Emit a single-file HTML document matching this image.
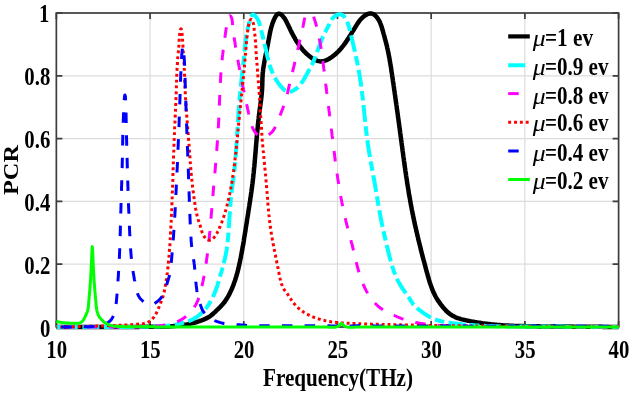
<!DOCTYPE html>
<html><head><meta charset="utf-8"><style>
html,body{margin:0;padding:0;background:#fff;}
body{width:629px;height:394px;overflow:hidden;}
svg{display:block;filter:blur(0.4px);}
text{font-family:"Liberation Serif",serif;font-weight:bold;fill:#000;}
</style></head><body>
<svg width="629" height="394" viewBox="0 0 629 394">
<rect width="629" height="394" fill="#fff"/>
<g stroke="#dcdcdc" stroke-width="1.2" fill="none"><line x1="150.06" y1="13.00" x2="150.06" y2="327.00"/>
<line x1="243.77" y1="13.00" x2="243.77" y2="327.00"/>
<line x1="337.48" y1="13.00" x2="337.48" y2="327.00"/>
<line x1="431.18" y1="13.00" x2="431.18" y2="327.00"/>
<line x1="524.89" y1="13.00" x2="524.89" y2="327.00"/>
<line x1="56.35" y1="264.20" x2="618.60" y2="264.20"/>
<line x1="56.35" y1="201.40" x2="618.60" y2="201.40"/>
<line x1="56.35" y1="138.60" x2="618.60" y2="138.60"/>
<line x1="56.35" y1="75.80" x2="618.60" y2="75.80"/></g>
<g stroke="#3c3c3c" stroke-width="1.7" fill="none">
<rect x="56.35" y="13.00" width="562.25" height="314.00"/>
<path d="M56.35 327.00V321.00M56.35 13.00V19.00M150.06 327.00V321.00M150.06 13.00V19.00M243.77 327.00V321.00M243.77 13.00V19.00M337.48 327.00V321.00M337.48 13.00V19.00M431.18 327.00V321.00M431.18 13.00V19.00M524.89 327.00V321.00M524.89 13.00V19.00M618.60 327.00V321.00M618.60 13.00V19.00M56.35 327.00H62.35M618.60 327.00H612.60M56.35 264.20H62.35M618.60 264.20H612.60M56.35 201.40H62.35M618.60 201.40H612.60M56.35 138.60H62.35M618.60 138.60H612.60M56.35 75.80H62.35M618.60 75.80H612.60M56.35 13.00H62.35M618.60 13.00H612.60"/>
</g>
<g fill="none" stroke-linejoin="round"><path d="M56.3 327.0L57.5 327.0L58.7 327.0L59.9 327.0L61.1 327.0L62.3 327.0L63.5 327.0L64.7 327.0L65.9 327.0L67.1 327.0L68.3 327.0L69.5 327.0L70.7 327.0L71.9 327.0L73.1 327.0L74.3 327.0L75.5 327.0L76.7 327.0L77.9 327.0L79.1 327.0L80.3 327.0L81.5 327.0L82.7 327.0L83.9 327.0L85.1 327.0L86.3 327.0L87.5 327.0L88.7 327.0L89.9 327.0L91.1 327.0L92.3 327.0L93.5 327.0L94.7 327.0L95.9 327.0L97.1 327.0L98.3 327.0L99.5 327.0L100.7 327.0L101.9 327.0L103.1 327.0L104.3 327.0L105.5 327.0L106.7 327.0L107.8 327.0L109.0 327.0L110.2 327.0L111.4 327.0L112.6 327.0L113.8 327.0L115.0 327.0L116.2 327.0L117.4 327.0L118.6 326.9L119.8 326.9L121.0 326.9L122.2 326.9L123.4 326.9L124.6 326.9L125.8 326.9L127.0 326.9L128.2 326.9L129.4 326.9L130.6 326.9L131.8 326.9L133.0 326.9L134.2 326.9L135.4 326.9L136.6 326.9L137.8 326.9L139.0 326.9L140.2 326.8L141.4 326.8L142.6 326.8L143.8 326.8L145.0 326.8L146.2 326.8L147.4 326.8L148.6 326.8L149.8 326.8L151.0 326.8L152.2 326.8L153.4 326.8L154.6 326.8L155.8 326.8L157.0 326.7L158.2 326.7L159.4 326.7L160.6 326.7L161.8 326.7L163.0 326.6L164.2 326.6L165.4 326.5L166.6 326.5L167.8 326.4L169.0 326.4L170.2 326.3L171.4 326.2L172.6 326.2L173.8 326.1L175.0 326.0L176.2 325.9L177.4 325.7L178.6 325.6L179.7 325.5L180.9 325.3L182.1 325.2L183.3 325.0L184.5 324.8L185.7 324.6L186.8 324.4L188.0 324.2L189.2 323.9L190.4 323.7L191.5 323.4L192.7 323.1L193.9 322.8L195.0 322.5L196.2 322.2L197.3 321.8L198.5 321.4L199.6 321.1L200.7 320.7L201.9 320.3L203.0 319.8L204.1 319.4L205.2 318.9L206.3 318.4L207.4 317.9L208.4 317.3L209.4 316.7L210.4 316.0L211.3 315.3L212.2 314.5L213.1 313.7L214.0 312.9L214.9 312.1L215.7 311.3L216.6 310.4L217.5 309.6L218.4 308.8L219.2 307.9L220.1 307.1L220.9 306.2L221.7 305.3L222.5 304.4L223.3 303.5L224.1 302.6L224.8 301.6L225.5 300.6L226.1 299.6L226.8 298.6L227.4 297.6L228.0 296.6L228.6 295.5L229.2 294.5L229.7 293.4L230.2 292.3L230.7 291.3L231.2 290.2L231.7 289.1L232.2 288.0L232.6 286.9L233.1 285.8L233.5 284.7L233.9 283.5L234.3 282.4L234.7 281.3L235.1 280.2L235.5 279.0L235.8 277.9L236.2 276.7L236.5 275.6L236.8 274.4L237.2 273.3L237.5 272.1L237.8 270.9L238.1 269.8L238.4 268.6L238.6 267.5L238.9 266.3L239.2 265.1L239.4 263.9L239.7 262.8L239.9 261.6L240.2 260.4L240.4 259.2L240.7 258.0L240.9 256.9L241.1 255.7L241.3 254.5L241.6 253.3L241.8 252.1L242.0 251.0L242.2 249.8L242.4 248.6L242.6 247.4L242.8 246.2L243.1 245.1L243.3 243.9L243.5 242.7L243.7 241.5L243.9 240.3L244.0 239.2L244.2 238.0L244.4 236.8L244.6 235.6L244.8 234.4L245.0 233.2L245.2 232.1L245.4 230.9L245.6 229.7L245.7 228.5L245.9 227.3L246.1 226.2L246.3 225.0L246.5 223.8L246.7 222.6L246.9 221.4L247.0 220.2L247.2 219.1L247.4 217.9L247.6 216.7L247.8 215.5L248.0 214.3L248.2 213.1L248.3 212.0L248.5 210.8L248.7 209.6L248.9 208.4L249.1 207.2L249.3 206.0L249.4 204.8L249.6 203.7L249.8 202.5L250.0 201.3L250.2 200.1L250.3 198.9L250.5 197.7L250.7 196.5L250.9 195.4L251.0 194.2L251.2 193.0L251.4 191.8L251.5 190.6L251.7 189.4L251.9 188.2L252.0 187.0L252.2 185.9L252.3 184.7L252.5 183.5L252.6 182.3L252.8 181.1L252.9 179.9L253.0 178.7L253.2 177.5L253.3 176.3L253.4 175.1L253.5 174.0L253.7 172.8L253.8 171.6L253.9 170.4L254.0 169.2L254.1 168.0L254.3 166.8L254.4 165.6L254.5 164.4L254.6 163.2L254.7 162.0L254.8 160.8L254.9 159.6L255.0 158.4L255.1 157.2L255.2 156.0L255.3 154.8L255.4 153.7L255.5 152.5L255.6 151.3L255.7 150.1L255.8 148.9L255.9 147.7L256.0 146.5L256.1 145.3L256.2 144.1L256.3 142.9L256.4 141.7L256.5 140.5L256.6 139.3L256.7 138.1L256.8 136.9L256.9 135.7L257.0 134.5L257.1 133.3L257.2 132.1L257.3 131.0L257.4 129.8L257.6 128.6L257.7 127.4L257.8 126.2L257.9 125.0L258.0 123.8L258.2 122.6L258.3 121.4L258.4 120.2L258.6 119.0L258.7 117.8L258.8 116.6L259.0 115.5L259.1 114.3L259.3 113.1L259.4 111.9L259.6 110.7L259.7 109.5L259.9 108.3L260.1 107.1L260.2 106.0L260.4 104.8L260.6 103.6L260.7 102.4L260.9 101.2L261.1 100.0L261.2 98.8L261.3 97.6L261.5 96.4L261.6 95.2L261.7 94.1L261.8 92.9L261.9 91.7L262.0 90.5L262.1 89.3L262.1 88.1L262.2 86.9L262.2 85.7L262.3 84.5L262.3 83.3L262.3 82.1L262.4 80.9L262.4 79.7L262.4 78.5L262.5 77.3L262.6 76.1L262.6 74.9L262.7 73.7L262.8 72.5L263.0 71.3L263.1 70.1L263.2 68.9L263.4 67.7L263.6 66.6L263.8 65.4L264.0 64.2L264.2 63.0L264.4 61.8L264.6 60.7L264.8 59.5L265.0 58.3L265.3 57.1L265.5 56.0L265.7 54.8L266.0 53.6L266.2 52.4L266.5 51.3L266.7 50.1L267.0 48.9L267.2 47.7L267.4 46.5L267.7 45.4L267.9 44.2L268.1 43.0L268.3 41.8L268.5 40.7L268.7 39.5L269.0 38.3L269.2 37.1L269.4 35.9L269.6 34.8L269.8 33.6L270.1 32.4L270.3 31.2L270.6 30.1L270.9 28.9L271.2 27.7L271.5 26.6L271.9 25.4L272.2 24.2L272.6 23.1L273.1 21.9L273.5 20.8L274.0 19.7L274.5 18.5L275.1 17.4L275.7 16.3L276.4 15.3L277.1 14.5L277.9 13.9L278.7 13.7L279.6 13.8L280.5 14.2L281.4 14.8L282.4 15.7L283.2 16.7L284.1 17.7L284.8 18.8L285.5 19.9L286.1 21.1L286.7 22.2L287.2 23.3L287.8 24.4L288.3 25.6L288.8 26.6L289.4 27.7L289.9 28.8L290.4 29.9L290.9 30.9L291.4 32.0L292.0 33.0L292.5 34.1L293.1 35.1L293.6 36.2L294.2 37.2L294.8 38.2L295.4 39.3L296.0 40.3L296.6 41.3L297.2 42.3L297.9 43.3L298.5 44.3L299.2 45.3L299.9 46.2L300.6 47.2L301.4 48.1L302.1 49.1L302.9 50.0L303.7 50.9L304.5 51.7L305.4 52.6L306.2 53.4L307.1 54.3L308.1 55.1L309.0 55.9L310.0 56.6L311.0 57.4L312.0 58.1L313.1 58.8L314.2 59.4L315.2 59.9L316.4 60.4L317.5 60.8L318.6 61.1L319.7 61.3L320.9 61.4L322.0 61.3L323.2 61.2L324.3 60.9L325.4 60.5L326.5 60.1L327.6 59.6L328.7 59.0L329.8 58.3L330.8 57.7L331.8 57.0L332.8 56.3L333.7 55.5L334.7 54.8L335.6 54.0L336.5 53.2L337.3 52.4L338.2 51.6L339.0 50.7L339.8 49.8L340.6 49.0L341.4 48.1L342.1 47.2L342.9 46.2L343.6 45.3L344.3 44.3L345.0 43.4L345.7 42.4L346.4 41.4L347.0 40.4L347.7 39.4L348.4 38.4L349.0 37.4L349.7 36.4L350.3 35.3L350.9 34.3L351.6 33.3L352.2 32.2L352.8 31.2L353.5 30.2L354.1 29.1L354.7 28.1L355.4 27.0L356.0 26.0L356.7 25.0L357.3 23.9L358.0 22.9L358.7 21.9L359.4 21.0L360.1 20.0L360.9 19.1L361.7 18.3L362.6 17.4L363.4 16.7L364.4 15.9L365.4 15.3L366.4 14.7L367.5 14.1L368.7 13.7L369.8 13.5L371.0 13.4L372.1 13.6L373.1 14.0L374.1 14.6L375.1 15.4L375.9 16.2L376.7 17.1L377.5 18.1L378.2 19.1L378.8 20.1L379.4 21.1L379.9 22.2L380.3 23.3L380.8 24.5L381.2 25.6L381.6 26.8L382.0 28.0L382.3 29.2L382.6 30.3L383.0 31.5L383.3 32.7L383.6 33.9L384.0 35.0L384.3 36.2L384.6 37.3L384.9 38.5L385.2 39.6L385.5 40.8L385.8 41.9L386.1 43.1L386.4 44.2L386.7 45.4L387.0 46.5L387.2 47.7L387.5 48.9L387.8 50.0L388.0 51.2L388.3 52.4L388.5 53.5L388.7 54.7L388.9 55.9L389.2 57.1L389.4 58.2L389.6 59.4L389.8 60.6L390.0 61.8L390.2 63.0L390.4 64.1L390.6 65.3L390.8 66.5L391.0 67.7L391.2 68.9L391.3 70.1L391.5 71.3L391.7 72.5L391.9 73.6L392.1 74.8L392.2 76.0L392.4 77.2L392.6 78.4L392.8 79.6L392.9 80.8L393.1 82.0L393.3 83.1L393.5 84.3L393.6 85.5L393.8 86.7L394.0 87.9L394.1 89.1L394.3 90.3L394.5 91.5L394.7 92.6L394.8 93.8L395.0 95.0L395.2 96.2L395.3 97.4L395.5 98.6L395.7 99.8L395.8 101.0L396.0 102.1L396.2 103.3L396.3 104.5L396.5 105.7L396.7 106.9L396.8 108.1L397.0 109.3L397.2 110.4L397.3 111.6L397.5 112.8L397.7 114.0L397.8 115.2L398.0 116.4L398.1 117.6L398.3 118.7L398.5 119.9L398.6 121.1L398.8 122.3L399.0 123.5L399.1 124.7L399.3 125.9L399.4 127.1L399.6 128.2L399.8 129.4L399.9 130.6L400.1 131.8L400.2 133.0L400.4 134.2L400.6 135.4L400.7 136.6L400.9 137.7L401.0 138.9L401.2 140.1L401.4 141.3L401.5 142.5L401.7 143.7L401.8 144.9L402.0 146.1L402.2 147.2L402.3 148.4L402.5 149.6L402.6 150.8L402.8 152.0L403.0 153.2L403.1 154.4L403.3 155.6L403.4 156.8L403.6 157.9L403.8 159.1L403.9 160.3L404.1 161.5L404.3 162.7L404.4 163.9L404.6 165.1L404.8 166.3L404.9 167.5L405.1 168.6L405.3 169.8L405.4 171.0L405.6 172.2L405.8 173.4L406.0 174.6L406.1 175.8L406.3 177.0L406.5 178.1L406.7 179.3L406.9 180.5L407.0 181.7L407.2 182.9L407.4 184.1L407.6 185.3L407.8 186.4L408.0 187.6L408.2 188.8L408.4 190.0L408.6 191.2L408.7 192.4L408.9 193.5L409.1 194.7L409.3 195.9L409.6 197.1L409.8 198.3L410.0 199.4L410.2 200.6L410.4 201.8L410.6 203.0L410.8 204.2L411.0 205.3L411.3 206.5L411.5 207.7L411.7 208.9L411.9 210.0L412.2 211.2L412.4 212.4L412.6 213.6L412.9 214.7L413.1 215.9L413.3 217.1L413.6 218.3L413.8 219.4L414.1 220.6L414.3 221.8L414.6 223.0L414.8 224.1L415.1 225.3L415.4 226.5L415.6 227.6L415.9 228.8L416.2 230.0L416.4 231.1L416.7 232.3L417.0 233.5L417.2 234.6L417.5 235.8L417.8 237.0L418.1 238.1L418.3 239.3L418.6 240.5L418.9 241.6L419.2 242.8L419.5 244.0L419.8 245.1L420.1 246.3L420.4 247.4L420.6 248.6L420.9 249.8L421.2 250.9L421.5 252.1L421.8 253.3L422.1 254.4L422.4 255.6L422.7 256.7L423.0 257.9L423.3 259.1L423.6 260.2L424.0 261.4L424.3 262.5L424.6 263.7L424.9 264.9L425.2 266.0L425.5 267.2L425.8 268.3L426.1 269.5L426.4 270.7L426.7 271.8L427.1 273.0L427.4 274.1L427.7 275.3L428.0 276.5L428.4 277.6L428.7 278.8L429.0 279.9L429.4 281.1L429.7 282.2L430.1 283.3L430.5 284.5L430.9 285.6L431.3 286.7L431.7 287.8L432.1 289.0L432.6 290.1L433.0 291.2L433.5 292.2L434.0 293.3L434.5 294.4L435.1 295.5L435.6 296.5L436.2 297.6L436.8 298.6L437.4 299.6L438.1 300.6L438.8 301.6L439.5 302.6L440.2 303.6L440.9 304.6L441.6 305.5L442.4 306.5L443.1 307.4L443.9 308.3L444.7 309.2L445.5 310.1L446.3 311.0L447.2 311.8L448.1 312.6L449.1 313.3L450.0 314.1L451.0 314.7L452.0 315.4L453.1 316.0L454.2 316.6L455.2 317.1L456.3 317.6L457.5 318.0L458.6 318.4L459.7 318.7L460.9 319.1L462.0 319.4L463.2 319.6L464.4 319.9L465.5 320.2L466.7 320.4L467.9 320.7L469.1 320.9L470.2 321.2L471.4 321.4L472.6 321.6L473.8 321.8L475.0 322.1L476.1 322.3L477.3 322.5L478.5 322.7L479.7 322.8L480.9 323.0L482.1 323.2L483.3 323.4L484.4 323.5L485.6 323.7L486.8 323.8L488.0 324.0L489.2 324.1L490.4 324.2L491.6 324.4L492.8 324.5L494.0 324.6L495.2 324.7L496.4 324.8L497.5 324.9L498.7 325.0L499.9 325.1L501.1 325.2L502.3 325.3L503.5 325.4L504.7 325.4L505.9 325.5L507.1 325.6L508.3 325.6L509.5 325.7L510.7 325.7L511.9 325.8L513.1 325.8L514.3 325.9L515.5 325.9L516.7 325.9L517.9 326.0L519.1 326.0L520.3 326.0L521.5 326.1L522.7 326.1L523.9 326.1L525.1 326.1L526.3 326.2L527.5 326.2L528.7 326.2L529.9 326.2L531.1 326.2L532.3 326.3L533.5 326.3L534.7 326.3L535.9 326.3L537.1 326.3L538.3 326.3L539.5 326.4L540.7 326.4L541.9 326.4L543.1 326.4L544.3 326.4L545.5 326.4L546.7 326.4L547.9 326.5L549.1 326.5L550.3 326.5L551.5 326.5L552.7 326.5L553.9 326.5L555.1 326.5L556.3 326.5L557.5 326.5L558.7 326.6L559.9 326.6L561.1 326.6L562.3 326.6L563.5 326.6L564.7 326.6L565.8 326.6L567.0 326.6L568.2 326.6L569.4 326.6L570.6 326.6L571.8 326.6L573.0 326.7L574.2 326.7L575.4 326.7L576.6 326.7L577.8 326.7L579.0 326.7L580.2 326.7L581.4 326.7L582.6 326.7L583.8 326.7L585.0 326.7L586.2 326.7L587.4 326.7L588.6 326.8L589.8 326.8L591.0 326.8L592.2 326.8L593.4 326.8L594.6 326.8L595.8 326.8L597.0 326.8L598.2 326.8L599.4 326.8L600.6 326.8L601.8 326.8L603.0 326.9L604.2 326.9L605.4 326.9L606.6 326.9L607.8 326.9L609.0 326.9L610.2 326.9L611.4 326.9L612.6 326.9L613.8 327.0L615.0 327.0L616.2 327.0L617.4 327.0L618.6 327.0" stroke="#000" stroke-width="4.5"/>
<path d="M56.3 327.1L57.5 327.0L58.7 327.0L59.9 327.0L61.1 327.0L62.3 327.0L63.5 327.0L64.7 327.0L65.9 326.9L67.1 326.9L68.3 326.9L69.5 326.9L70.7 326.9L71.9 326.9L73.1 326.9L74.3 326.9L75.5 326.9L76.7 326.9L77.9 326.9L79.1 326.9L80.3 326.9L81.5 326.9L82.7 326.9L83.9 326.9L85.1 326.9L86.3 326.9L87.5 326.9L88.7 326.9L89.9 326.9L91.1 326.9L92.3 326.9L93.5 326.9L94.7 326.9L95.9 326.9L97.1 326.9L98.3 327.0L99.5 327.0L100.7 327.0L101.9 327.0L103.1 327.0L104.3 327.0L105.5 327.0L106.7 327.0L107.9 327.0L109.1 327.0L110.3 327.0L111.5 327.0L112.7 327.0L113.9 327.0L115.1 327.0L116.3 327.0L117.5 327.0L118.7 327.0L119.9 327.0L121.1 327.0L122.3 327.0L123.5 327.0L124.7 327.0L125.9 327.0L127.1 327.0L128.3 327.0L129.5 327.0L130.7 327.0L131.9 327.0L133.1 327.0L134.3 326.9L135.5 326.9L136.7 326.9L137.9 326.9L139.1 326.9L140.3 326.9L141.5 326.9L142.7 326.8L143.9 326.8L145.1 326.8L146.3 326.8L147.5 326.7L148.7 326.7L149.8 326.7L151.0 326.7L152.2 326.6L153.4 326.6L154.6 326.6L155.8 326.5L157.0 326.5L158.2 326.4L159.4 326.4L160.6 326.3L161.8 326.2L163.0 326.1L164.2 326.1L165.4 326.0L166.6 325.8L167.8 325.7L169.0 325.6L170.1 325.5L171.3 325.3L172.5 325.1L173.7 324.9L174.9 324.7L176.1 324.5L177.2 324.3L178.4 324.1L179.6 323.8L180.8 323.5L181.9 323.2L183.1 322.9L184.3 322.6L185.4 322.2L186.6 321.8L187.7 321.4L188.9 321.0L190.0 320.5L191.1 320.1L192.2 319.6L193.3 319.0L194.3 318.4L195.4 317.8L196.4 317.2L197.4 316.5L198.3 315.8L199.3 315.1L200.2 314.4L201.1 313.6L201.9 312.7L202.8 311.9L203.6 311.0L204.4 310.1L205.2 309.2L206.0 308.3L206.7 307.4L207.4 306.4L208.1 305.4L208.8 304.4L209.4 303.4L210.0 302.4L210.6 301.3L211.2 300.3L211.8 299.2L212.3 298.1L212.8 297.1L213.3 296.0L213.8 294.9L214.3 293.8L214.7 292.7L215.2 291.6L215.6 290.5L216.0 289.4L216.4 288.2L216.8 287.1L217.2 286.0L217.6 284.8L217.9 283.7L218.3 282.5L218.6 281.4L219.0 280.2L219.3 279.1L219.6 277.9L220.0 276.7L220.3 275.6L220.6 274.4L220.9 273.3L221.3 272.1L221.6 271.0L221.9 269.8L222.3 268.6L222.6 267.5L222.9 266.3L223.2 265.2L223.5 264.0L223.8 262.9L224.1 261.7L224.4 260.5L224.7 259.4L225.0 258.2L225.2 257.0L225.5 255.9L225.7 254.7L226.0 253.5L226.2 252.4L226.4 251.2L226.6 250.0L226.8 248.8L226.9 247.6L227.1 246.4L227.2 245.3L227.4 244.1L227.5 242.9L227.6 241.7L227.8 240.5L227.9 239.3L228.0 238.1L228.1 236.9L228.2 235.7L228.3 234.5L228.4 233.3L228.5 232.1L228.6 230.9L228.7 229.7L228.7 228.5L228.8 227.3L228.9 226.1L229.0 224.9L229.1 223.7L229.1 222.5L229.2 221.3L229.3 220.1L229.4 218.9L229.4 217.7L229.5 216.6L229.6 215.4L229.7 214.2L229.8 213.0L229.8 211.8L229.9 210.6L230.0 209.4L230.1 208.2L230.2 207.0L230.3 205.8L230.4 204.6L230.5 203.4L230.6 202.2L230.7 201.0L230.8 199.8L230.9 198.6L231.0 197.4L231.1 196.2L231.3 195.0L231.4 193.9L231.5 192.7L231.7 191.5L231.8 190.3L232.0 189.1L232.1 187.9L232.3 186.7L232.4 185.5L232.6 184.3L232.8 183.2L232.9 182.0L233.1 180.8L233.3 179.6L233.4 178.4L233.6 177.2L233.7 176.0L233.9 174.8L234.0 173.6L234.2 172.4L234.3 171.3L234.5 170.1L234.6 168.9L234.7 167.7L234.8 166.5L234.9 165.3L235.0 164.1L235.1 162.9L235.2 161.7L235.3 160.5L235.4 159.3L235.5 158.1L235.6 156.9L235.7 155.7L235.8 154.5L235.9 153.3L236.0 152.1L236.0 150.9L236.1 149.7L236.2 148.5L236.3 147.3L236.4 146.2L236.4 145.0L236.5 143.8L236.6 142.6L236.7 141.4L236.8 140.2L236.8 139.0L236.9 137.8L237.0 136.6L237.1 135.4L237.1 134.2L237.2 133.0L237.3 131.8L237.4 130.6L237.4 129.4L237.5 128.2L237.6 127.0L237.6 125.8L237.7 124.6L237.8 123.4L237.9 122.2L238.0 121.0L238.0 119.8L238.1 118.6L238.2 117.5L238.3 116.3L238.4 115.1L238.4 113.9L238.5 112.7L238.6 111.5L238.7 110.3L238.8 109.1L238.9 107.9L239.0 106.7L239.0 105.5L239.1 104.3L239.2 103.1L239.3 101.9L239.4 100.7L239.5 99.5L239.6 98.3L239.7 97.1L239.8 95.9L239.9 94.7L240.1 93.5L240.2 92.3L240.3 91.1L240.4 89.9L240.5 88.8L240.6 87.6L240.8 86.4L240.9 85.2L241.0 84.0L241.1 82.8L241.3 81.6L241.4 80.4L241.5 79.2L241.7 78.0L241.8 76.8L241.9 75.6L242.1 74.4L242.2 73.2L242.3 72.0L242.5 70.8L242.6 69.6L242.7 68.4L242.9 67.3L243.0 66.1L243.1 64.9L243.3 63.7L243.4 62.5L243.5 61.3L243.6 60.1L243.8 58.9L243.9 57.7L244.0 56.5L244.1 55.4L244.2 54.2L244.3 53.0L244.5 51.8L244.6 50.6L244.7 49.4L244.8 48.2L244.9 47.1L245.0 45.9L245.2 44.7L245.3 43.5L245.4 42.3L245.6 41.1L245.7 39.9L245.9 38.8L246.1 37.6L246.2 36.4L246.4 35.2L246.6 34.0L246.8 32.8L247.0 31.6L247.3 30.4L247.5 29.2L247.8 28.0L248.1 26.9L248.4 25.7L248.7 24.5L249.0 23.3L249.3 22.1L249.7 20.9L250.1 19.7L250.5 18.4L250.9 17.3L251.4 16.1L251.9 15.2L252.5 14.7L253.3 14.6L254.1 15.0L255.0 15.7L255.9 16.7L256.8 17.9L257.5 19.1L258.1 20.2L258.7 21.4L259.1 22.6L259.5 23.7L259.8 24.8L260.1 26.0L260.4 27.1L260.6 28.3L260.9 29.4L261.2 30.5L261.5 31.7L261.8 32.8L262.1 34.0L262.4 35.1L262.7 36.3L263.0 37.4L263.3 38.6L263.6 39.7L263.9 40.9L264.2 42.1L264.5 43.2L264.7 44.4L265.0 45.6L265.2 46.8L265.5 48.0L265.8 49.1L266.0 50.3L266.3 51.5L266.5 52.7L266.8 53.9L267.1 55.0L267.3 56.2L267.6 57.4L267.9 58.6L268.2 59.7L268.5 60.9L268.8 62.0L269.1 63.2L269.5 64.3L269.8 65.5L270.2 66.6L270.6 67.7L270.9 68.8L271.4 69.9L271.8 71.0L272.2 72.1L272.7 73.2L273.2 74.3L273.7 75.4L274.2 76.4L274.8 77.5L275.4 78.5L276.0 79.6L276.6 80.6L277.3 81.6L278.0 82.6L278.7 83.6L279.5 84.7L280.3 85.7L281.1 86.7L282.0 87.6L282.8 88.6L283.8 89.4L284.7 90.2L285.7 90.8L286.7 91.3L287.8 91.6L288.9 91.8L290.0 91.7L291.1 91.5L292.2 91.1L293.3 90.5L294.4 89.9L295.5 89.2L296.5 88.4L297.5 87.5L298.4 86.6L299.3 85.7L300.1 84.8L300.9 83.8L301.6 82.8L302.3 81.9L302.9 80.9L303.6 79.9L304.2 78.9L304.8 77.8L305.3 76.8L305.9 75.8L306.5 74.7L307.1 73.7L307.6 72.7L308.2 71.6L308.8 70.6L309.4 69.5L310.0 68.5L310.6 67.4L311.1 66.4L311.7 65.3L312.2 64.2L312.7 63.1L313.2 62.0L313.7 60.9L314.1 59.8L314.6 58.7L315.0 57.6L315.5 56.5L315.9 55.3L316.3 54.2L316.7 53.1L317.1 51.9L317.5 50.8L317.9 49.7L318.3 48.6L318.7 47.4L319.2 46.3L319.6 45.2L320.0 44.0L320.4 42.9L320.8 41.8L321.3 40.7L321.7 39.6L322.2 38.5L322.6 37.4L323.1 36.3L323.6 35.2L324.1 34.1L324.7 33.0L325.2 32.0L325.8 30.9L326.3 29.9L326.9 28.8L327.5 27.7L328.1 26.7L328.6 25.6L329.2 24.6L329.7 23.5L330.3 22.4L330.8 21.3L331.4 20.3L332.0 19.2L332.7 18.2L333.5 17.3L334.4 16.5L335.4 15.7L336.6 15.1L337.7 14.6L338.9 14.3L340.1 14.3L341.1 14.5L342.1 14.9L343.0 15.5L343.8 16.2L344.6 17.1L345.3 18.1L345.9 19.2L346.5 20.4L347.0 21.5L347.5 22.7L347.9 23.9L348.4 25.0L348.7 26.2L349.1 27.4L349.4 28.5L349.8 29.7L350.1 30.8L350.3 32.0L350.6 33.1L350.9 34.3L351.2 35.4L351.4 36.6L351.7 37.7L351.9 38.9L352.2 40.1L352.5 41.2L352.7 42.4L353.0 43.5L353.3 44.7L353.5 45.9L353.8 47.0L354.1 48.2L354.4 49.4L354.6 50.5L354.9 51.7L355.1 52.9L355.4 54.0L355.7 55.2L355.9 56.4L356.2 57.6L356.4 58.7L356.7 59.9L356.9 61.1L357.2 62.3L357.4 63.4L357.7 64.6L357.9 65.8L358.1 67.0L358.3 68.2L358.6 69.3L358.8 70.5L359.0 71.7L359.2 72.9L359.4 74.1L359.6 75.3L359.8 76.4L360.0 77.6L360.2 78.8L360.3 80.0L360.5 81.2L360.7 82.4L360.9 83.6L361.0 84.8L361.2 85.9L361.3 87.1L361.5 88.3L361.6 89.5L361.8 90.7L361.9 91.9L362.1 93.1L362.2 94.3L362.4 95.5L362.5 96.6L362.7 97.8L362.8 99.0L362.9 100.2L363.1 101.4L363.2 102.6L363.3 103.8L363.4 105.0L363.6 106.2L363.7 107.4L363.8 108.6L363.9 109.8L364.1 111.0L364.2 112.1L364.3 113.3L364.4 114.5L364.6 115.7L364.7 116.9L364.8 118.1L364.9 119.3L365.1 120.5L365.2 121.7L365.3 122.9L365.5 124.1L365.6 125.3L365.7 126.4L365.9 127.6L366.0 128.8L366.1 130.0L366.3 131.2L366.4 132.4L366.5 133.6L366.7 134.8L366.8 136.0L367.0 137.2L367.1 138.3L367.3 139.5L367.4 140.7L367.6 141.9L367.8 143.1L367.9 144.3L368.1 145.5L368.3 146.7L368.5 147.8L368.6 149.0L368.8 150.2L369.0 151.4L369.2 152.6L369.4 153.8L369.6 154.9L369.8 156.1L370.0 157.3L370.2 158.5L370.4 159.7L370.6 160.9L370.8 162.0L371.0 163.2L371.3 164.4L371.5 165.6L371.7 166.8L371.9 167.9L372.1 169.1L372.3 170.3L372.6 171.5L372.8 172.7L373.0 173.8L373.2 175.0L373.4 176.2L373.6 177.4L373.8 178.6L374.1 179.7L374.3 180.9L374.5 182.1L374.7 183.3L374.9 184.5L375.1 185.6L375.3 186.8L375.5 188.0L375.7 189.2L375.9 190.4L376.1 191.6L376.3 192.7L376.5 193.9L376.7 195.1L376.9 196.3L377.1 197.5L377.3 198.7L377.5 199.8L377.7 201.0L377.9 202.2L378.1 203.4L378.3 204.6L378.5 205.7L378.7 206.9L378.9 208.1L379.1 209.3L379.3 210.5L379.5 211.6L379.8 212.8L380.0 214.0L380.2 215.2L380.4 216.4L380.6 217.5L380.9 218.7L381.1 219.9L381.3 221.1L381.6 222.2L381.8 223.4L382.1 224.6L382.3 225.8L382.6 226.9L382.8 228.1L383.1 229.3L383.3 230.4L383.6 231.6L383.8 232.8L384.1 234.0L384.4 235.1L384.6 236.3L384.9 237.5L385.2 238.6L385.4 239.8L385.7 241.0L386.0 242.1L386.3 243.3L386.5 244.5L386.8 245.6L387.1 246.8L387.4 248.0L387.7 249.1L388.0 250.3L388.3 251.5L388.5 252.6L388.8 253.8L389.1 255.0L389.4 256.1L389.7 257.3L390.0 258.5L390.3 259.6L390.7 260.8L391.0 261.9L391.3 263.1L391.6 264.2L392.0 265.4L392.3 266.5L392.7 267.7L393.1 268.8L393.4 269.9L393.8 271.1L394.2 272.2L394.7 273.3L395.1 274.4L395.5 275.5L396.0 276.6L396.5 277.7L397.0 278.8L397.5 279.9L398.0 280.9L398.6 282.0L399.2 283.0L399.8 284.1L400.4 285.1L401.0 286.1L401.7 287.1L402.3 288.1L403.0 289.1L403.7 290.1L404.4 291.1L405.1 292.1L405.8 293.1L406.5 294.1L407.2 295.1L407.9 296.1L408.6 297.1L409.2 298.1L409.9 299.1L410.5 300.1L411.1 301.1L411.8 302.1L412.4 303.1L413.1 304.1L413.9 305.0L414.7 305.9L415.5 306.7L416.4 307.5L417.3 308.3L418.2 309.1L419.2 309.8L420.1 310.5L421.1 311.3L422.1 312.0L423.0 312.7L424.0 313.4L425.0 314.1L426.1 314.8L427.1 315.4L428.1 316.0L429.2 316.6L430.2 317.2L431.3 317.7L432.4 318.2L433.5 318.7L434.6 319.2L435.7 319.6L436.8 320.0L437.9 320.4L439.1 320.7L440.2 321.0L441.4 321.3L442.5 321.6L443.7 321.8L444.9 322.1L446.1 322.3L447.2 322.5L448.4 322.7L449.6 322.8L450.8 323.0L452.0 323.2L453.2 323.3L454.4 323.5L455.6 323.6L456.8 323.7L458.0 323.9L459.2 324.0L460.4 324.1L461.6 324.2L462.8 324.4L464.0 324.5L465.1 324.6L466.3 324.7L467.5 324.8L468.7 324.9L469.9 325.0L471.1 325.1L472.3 325.1L473.5 325.2L474.7 325.3L475.9 325.4L477.1 325.4L478.3 325.5L479.5 325.6L480.7 325.6L481.9 325.7L483.1 325.7L484.3 325.8L485.5 325.9L486.7 325.9L487.9 325.9L489.1 326.0L490.3 326.0L491.5 326.1L492.7 326.1L493.9 326.1L495.1 326.2L496.3 326.2L497.5 326.2L498.7 326.2L499.9 326.3L501.1 326.3L502.3 326.3L503.5 326.3L504.7 326.3L505.9 326.4L507.1 326.4L508.3 326.4L509.5 326.4L510.7 326.4L511.9 326.4L513.1 326.4L514.3 326.4L515.5 326.4L516.7 326.4L517.9 326.4L519.1 326.5L520.3 326.5L521.5 326.5L522.7 326.5L523.9 326.5L525.1 326.5L526.3 326.5L527.5 326.5L528.7 326.5L529.9 326.5L531.1 326.5L532.3 326.5L533.4 326.5L534.6 326.5L535.8 326.5L537.0 326.5L538.2 326.5L539.4 326.5L540.6 326.5L541.8 326.5L543.0 326.5L544.2 326.5L545.4 326.5L546.6 326.5L547.8 326.5L549.0 326.5L550.2 326.5L551.4 326.6L552.6 326.6L553.8 326.6L555.0 326.6L556.2 326.6L557.4 326.6L558.6 326.6L559.8 326.6L561.0 326.6L562.2 326.6L563.4 326.6L564.6 326.7L565.8 326.7L567.0 326.7L568.2 326.7L569.4 326.7L570.6 326.7L571.8 326.7L573.0 326.7L574.2 326.7L575.4 326.7L576.6 326.8L577.8 326.8L579.0 326.8L580.2 326.8L581.4 326.8L582.6 326.8L583.8 326.8L585.0 326.8L586.2 326.8L587.4 326.8L588.6 326.9L589.8 326.9L591.0 326.9L592.2 326.9L593.4 326.9L594.6 326.9L595.8 326.9L597.0 326.9L598.2 326.9L599.4 326.9L600.6 326.9L601.8 326.9L603.0 326.9L604.2 326.9L605.4 326.9L606.6 327.0L607.8 327.0L609.0 327.0L610.2 327.0L611.4 327.0L612.6 327.0L613.8 327.0L615.0 327.0L616.2 327.0L617.4 327.0L618.6 327.0" stroke="#00ffff" stroke-width="4" stroke-dasharray="17 4.5 9.5 4.5" stroke-dashoffset="9.39"/>
<path d="M56.3 327.0L57.5 327.0L58.7 327.0L59.9 327.0L61.1 327.0L62.3 327.0L63.5 327.0L64.7 327.0L65.9 327.0L67.1 327.0L68.3 327.0L69.5 327.0L70.7 327.0L71.9 327.0L73.1 327.0L74.3 327.0L75.5 327.0L76.7 327.0L77.9 327.0L79.1 327.0L80.3 327.0L81.5 327.0L82.7 327.0L83.9 327.0L85.1 327.0L86.3 327.0L87.5 327.0L88.7 326.9L89.9 326.9L91.1 326.9L92.3 326.9L93.5 326.9L94.7 326.9L95.9 326.9L97.1 326.9L98.3 326.9L99.5 326.9L100.7 326.9L101.9 326.9L103.1 326.9L104.3 326.9L105.5 326.9L106.7 326.9L107.9 326.9L109.1 326.9L110.3 326.9L111.5 326.9L112.7 326.9L113.9 326.9L115.1 326.9L116.3 326.9L117.5 326.9L118.7 326.9L119.9 326.9L121.1 326.9L122.3 327.0L123.5 327.0L124.7 327.0L125.9 327.0L127.1 327.0L128.3 327.0L129.5 327.0L130.7 327.0L131.9 327.0L133.1 327.0L134.3 327.0L135.5 327.0L136.7 327.0L137.9 327.0L139.1 327.0L140.3 326.9L141.5 326.9L142.7 326.9L143.9 326.9L145.1 326.8L146.3 326.8L147.5 326.7L148.7 326.6L149.9 326.6L151.1 326.5L152.2 326.4L153.4 326.3L154.6 326.2L155.8 326.1L157.0 326.0L158.2 325.9L159.4 325.7L160.6 325.6L161.8 325.4L163.0 325.3L164.2 325.1L165.4 324.9L166.6 324.7L167.8 324.4L169.0 324.2L170.2 323.9L171.3 323.6L172.5 323.3L173.6 322.9L174.7 322.6L175.9 322.2L177.0 321.7L178.0 321.3L179.1 320.8L180.2 320.2L181.2 319.7L182.2 319.1L183.3 318.4L184.2 317.8L185.2 317.0L186.1 316.3L187.1 315.5L188.0 314.7L188.8 313.9L189.7 313.0L190.5 312.1L191.3 311.2L192.1 310.3L192.8 309.3L193.5 308.3L194.2 307.3L194.8 306.3L195.5 305.2L196.1 304.2L196.6 303.1L197.1 302.0L197.6 300.9L198.1 299.8L198.5 298.7L198.9 297.6L199.3 296.4L199.6 295.3L199.9 294.2L200.3 293.0L200.6 291.9L200.9 290.7L201.1 289.5L201.4 288.4L201.7 287.2L202.0 286.0L202.2 284.9L202.5 283.7L202.7 282.5L203.0 281.3L203.2 280.2L203.4 279.0L203.6 277.8L203.9 276.6L204.1 275.4L204.3 274.3L204.5 273.1L204.7 271.9L204.9 270.7L205.1 269.5L205.3 268.3L205.5 267.2L205.7 266.0L205.9 264.8L206.1 263.6L206.2 262.4L206.4 261.2L206.6 260.0L206.7 258.8L206.9 257.7L207.1 256.5L207.2 255.3L207.4 254.1L207.5 252.9L207.7 251.7L207.8 250.5L208.0 249.3L208.1 248.1L208.3 247.0L208.4 245.8L208.5 244.6L208.7 243.4L208.8 242.2L208.9 241.0L209.0 239.8L209.2 238.6L209.3 237.4L209.4 236.2L209.5 235.0L209.6 233.8L209.7 232.6L209.9 231.4L210.0 230.3L210.1 229.1L210.2 227.9L210.3 226.7L210.4 225.5L210.5 224.3L210.6 223.1L210.7 221.9L210.8 220.7L210.9 219.5L211.0 218.3L211.1 217.1L211.2 215.9L211.3 214.7L211.4 213.5L211.5 212.3L211.6 211.1L211.7 209.9L211.8 208.7L211.9 207.5L212.0 206.3L212.1 205.2L212.2 204.0L212.3 202.8L212.4 201.6L212.5 200.4L212.6 199.2L212.7 198.0L212.8 196.8L212.9 195.6L213.0 194.4L213.1 193.2L213.2 192.0L213.3 190.8L213.4 189.6L213.5 188.4L213.6 187.2L213.7 186.0L213.8 184.8L213.9 183.6L214.0 182.4L214.1 181.2L214.2 180.0L214.4 178.9L214.5 177.7L214.6 176.5L214.7 175.3L214.8 174.1L214.9 172.9L215.0 171.7L215.1 170.5L215.2 169.3L215.3 168.1L215.4 166.9L215.5 165.7L215.6 164.5L215.7 163.3L215.8 162.1L215.9 160.9L216.0 159.7L216.1 158.5L216.2 157.3L216.3 156.1L216.4 154.9L216.5 153.7L216.6 152.5L216.7 151.4L216.8 150.2L216.9 149.0L216.9 147.8L217.0 146.6L217.1 145.4L217.2 144.2L217.3 143.0L217.4 141.8L217.5 140.6L217.6 139.4L217.6 138.2L217.7 137.0L217.8 135.8L217.9 134.6L218.0 133.4L218.0 132.2L218.1 131.0L218.2 129.8L218.3 128.6L218.3 127.4L218.4 126.2L218.5 125.0L218.5 123.8L218.6 122.6L218.7 121.4L218.7 120.2L218.8 119.0L218.8 117.8L218.9 116.6L218.9 115.4L219.0 114.2L219.1 113.0L219.1 111.8L219.2 110.6L219.2 109.4L219.2 108.2L219.3 107.0L219.3 105.8L219.4 104.6L219.4 103.4L219.5 102.2L219.5 101.0L219.6 99.8L219.6 98.7L219.7 97.5L219.7 96.3L219.8 95.1L219.8 93.9L219.9 92.7L219.9 91.5L220.0 90.3L220.0 89.1L220.1 87.9L220.1 86.7L220.2 85.5L220.3 84.3L220.3 83.1L220.4 81.9L220.5 80.7L220.5 79.5L220.6 78.3L220.7 77.1L220.7 75.9L220.8 74.7L220.9 73.5L221.0 72.3L221.1 71.1L221.2 69.9L221.3 68.7L221.4 67.5L221.5 66.3L221.6 65.1L221.7 63.9L221.8 62.7L221.9 61.5L222.0 60.3L222.2 59.1L222.3 57.9L222.4 56.8L222.5 55.6L222.7 54.4L222.8 53.2L223.0 52.0L223.1 50.8L223.3 49.6L223.4 48.4L223.6 47.2L223.7 46.0L223.9 44.8L224.0 43.7L224.2 42.5L224.4 41.3L224.5 40.1L224.7 38.9L224.9 37.7L225.0 36.5L225.2 35.4L225.4 34.2L225.5 33.0L225.7 31.8L225.9 30.6L226.0 29.4L226.2 28.3L226.4 27.1L226.6 25.9L226.7 24.7L226.9 23.5L227.2 22.3L227.4 21.0L227.8 19.7L228.1 18.3L228.6 17.2L229.1 16.3L229.6 15.8L230.3 15.9L230.9 16.4L231.3 17.2L231.7 18.2L232.0 19.3L232.2 20.6L232.3 22.0L232.5 23.4L232.6 24.8L232.7 26.2L232.8 27.5L233.0 28.8L233.1 30.0L233.3 31.3L233.4 32.5L233.6 33.7L233.7 34.8L233.9 36.0L234.1 37.1L234.2 38.3L234.4 39.4L234.6 40.5L234.8 41.7L235.0 42.8L235.1 44.0L235.3 45.1L235.5 46.3L235.7 47.5L235.9 48.6L236.1 49.8L236.3 51.0L236.5 52.2L236.7 53.4L236.9 54.6L237.1 55.8L237.4 57.0L237.6 58.2L237.8 59.4L238.0 60.6L238.2 61.8L238.4 63.0L238.6 64.2L238.9 65.4L239.1 66.6L239.3 67.8L239.5 68.9L239.7 70.1L240.0 71.3L240.2 72.5L240.4 73.7L240.6 74.8L240.9 76.0L241.1 77.2L241.3 78.4L241.5 79.5L241.8 80.7L242.0 81.9L242.2 83.1L242.5 84.2L242.7 85.4L242.9 86.6L243.2 87.7L243.4 88.9L243.6 90.1L243.9 91.2L244.1 92.4L244.4 93.6L244.6 94.7L244.9 95.9L245.1 97.1L245.3 98.2L245.6 99.4L245.8 100.6L246.1 101.7L246.3 102.9L246.6 104.1L246.9 105.3L247.1 106.4L247.4 107.6L247.6 108.8L247.9 110.0L248.2 111.1L248.4 112.3L248.7 113.5L248.9 114.7L249.2 115.9L249.5 117.1L249.8 118.3L250.0 119.5L250.3 120.6L250.6 121.8L250.9 123.0L251.3 124.2L251.6 125.3L252.0 126.4L252.5 127.6L253.0 128.6L253.5 129.7L254.1 130.7L254.7 131.7L255.4 132.6L256.2 133.6L257.0 134.4L257.9 135.2L258.8 135.9L259.9 136.4L260.9 136.8L262.1 137.0L263.2 137.0L264.4 136.8L265.6 136.4L266.8 135.9L268.0 135.2L269.1 134.5L270.1 133.8L271.0 132.9L271.9 132.1L272.7 131.2L273.4 130.2L274.1 129.2L274.7 128.2L275.2 127.2L275.8 126.2L276.2 125.1L276.7 124.0L277.1 122.9L277.6 121.8L278.0 120.7L278.4 119.6L278.8 118.4L279.3 117.3L279.7 116.2L280.1 115.1L280.6 114.0L281.0 112.9L281.5 111.7L281.9 110.6L282.4 109.5L282.8 108.4L283.2 107.3L283.6 106.1L284.0 105.0L284.4 103.9L284.8 102.7L285.2 101.6L285.5 100.4L285.9 99.3L286.2 98.1L286.5 97.0L286.8 95.8L287.1 94.7L287.4 93.5L287.7 92.3L288.0 91.2L288.2 90.0L288.5 88.8L288.8 87.7L289.0 86.5L289.3 85.3L289.6 84.1L289.9 83.0L290.1 81.8L290.4 80.6L290.7 79.5L291.0 78.3L291.3 77.1L291.5 76.0L291.8 74.8L292.1 73.7L292.4 72.5L292.7 71.3L293.0 70.2L293.2 69.0L293.5 67.8L293.8 66.7L294.1 65.5L294.4 64.3L294.7 63.2L294.9 62.0L295.2 60.8L295.5 59.7L295.8 58.5L296.0 57.3L296.3 56.2L296.6 55.0L296.9 53.8L297.1 52.6L297.4 51.5L297.7 50.3L297.9 49.1L298.2 47.9L298.4 46.8L298.7 45.6L299.0 44.4L299.2 43.3L299.5 42.1L299.7 40.9L300.0 39.7L300.3 38.6L300.5 37.4L300.8 36.2L301.1 35.1L301.3 33.9L301.6 32.8L301.9 31.6L302.1 30.5L302.4 29.3L302.7 28.1L302.9 27.0L303.2 25.8L303.4 24.6L303.6 23.4L303.9 22.2L304.1 20.9L304.3 19.7L304.7 18.5L305.2 17.4L305.8 16.4L306.6 15.4L307.7 14.6L309.0 13.9L310.3 13.4L311.4 13.4L312.3 13.8L312.9 14.7L313.4 15.7L313.8 16.9L314.1 18.0L314.5 19.2L314.8 20.4L315.2 21.5L315.5 22.7L315.8 23.8L316.2 25.0L316.5 26.2L316.8 27.3L317.1 28.5L317.3 29.7L317.6 30.9L317.9 32.0L318.2 33.2L318.4 34.4L318.7 35.5L318.9 36.7L319.2 37.9L319.4 39.1L319.6 40.3L319.8 41.4L320.1 42.6L320.3 43.8L320.5 45.0L320.7 46.2L320.9 47.3L321.1 48.5L321.2 49.7L321.4 50.9L321.6 52.1L321.8 53.3L322.0 54.5L322.1 55.6L322.3 56.8L322.5 58.0L322.6 59.2L322.8 60.4L322.9 61.6L323.1 62.8L323.2 64.0L323.4 65.2L323.5 66.3L323.7 67.5L323.8 68.7L324.0 69.9L324.1 71.1L324.3 72.3L324.4 73.5L324.6 74.7L324.7 75.9L324.9 77.1L325.0 78.3L325.1 79.4L325.3 80.6L325.4 81.8L325.6 83.0L325.7 84.2L325.9 85.4L326.0 86.6L326.2 87.8L326.3 89.0L326.5 90.2L326.6 91.4L326.8 92.5L326.9 93.7L327.1 94.9L327.2 96.1L327.4 97.3L327.5 98.5L327.7 99.7L327.8 100.9L328.0 102.1L328.1 103.3L328.3 104.4L328.4 105.6L328.6 106.8L328.7 108.0L328.9 109.2L329.0 110.4L329.2 111.6L329.3 112.8L329.5 114.0L329.6 115.2L329.8 116.3L329.9 117.5L330.1 118.7L330.2 119.9L330.4 121.1L330.5 122.3L330.7 123.5L330.8 124.7L331.0 125.9L331.1 127.1L331.3 128.3L331.4 129.4L331.6 130.6L331.7 131.8L331.8 133.0L332.0 134.2L332.1 135.4L332.3 136.6L332.4 137.8L332.6 139.0L332.7 140.2L332.8 141.4L333.0 142.5L333.1 143.7L333.3 144.9L333.4 146.1L333.6 147.3L333.7 148.5L333.9 149.7L334.0 150.9L334.2 152.1L334.3 153.3L334.5 154.5L334.6 155.6L334.8 156.8L334.9 158.0L335.1 159.2L335.2 160.4L335.4 161.6L335.5 162.8L335.7 164.0L335.9 165.2L336.0 166.3L336.2 167.5L336.4 168.7L336.5 169.9L336.7 171.1L336.9 172.3L337.0 173.5L337.2 174.7L337.4 175.9L337.6 177.0L337.7 178.2L337.9 179.4L338.1 180.6L338.3 181.8L338.5 183.0L338.7 184.2L338.9 185.3L339.1 186.5L339.3 187.7L339.5 188.9L339.7 190.1L339.9 191.3L340.1 192.4L340.3 193.6L340.5 194.8L340.7 196.0L340.9 197.2L341.1 198.3L341.4 199.5L341.6 200.7L341.8 201.9L342.0 203.0L342.3 204.2L342.5 205.4L342.8 206.6L343.0 207.8L343.2 208.9L343.5 210.1L343.7 211.3L344.0 212.4L344.2 213.6L344.5 214.8L344.8 216.0L345.0 217.1L345.3 218.3L345.6 219.5L345.8 220.6L346.1 221.8L346.4 223.0L346.7 224.1L347.0 225.3L347.3 226.5L347.6 227.6L347.9 228.8L348.2 229.9L348.5 231.1L348.8 232.3L349.1 233.4L349.4 234.6L349.7 235.7L350.0 236.9L350.3 238.1L350.6 239.2L350.9 240.4L351.2 241.5L351.5 242.7L351.9 243.9L352.2 245.0L352.5 246.2L352.7 247.4L353.0 248.5L353.3 249.7L353.6 250.8L353.9 252.0L354.2 253.2L354.4 254.3L354.7 255.5L355.0 256.7L355.3 257.9L355.5 259.0L355.8 260.2L356.1 261.4L356.4 262.5L356.6 263.7L356.9 264.9L357.2 266.0L357.5 267.2L357.8 268.3L358.2 269.5L358.5 270.7L358.8 271.8L359.2 273.0L359.5 274.1L359.9 275.3L360.2 276.4L360.6 277.5L361.0 278.7L361.4 279.8L361.8 280.9L362.3 282.0L362.7 283.1L363.2 284.2L363.6 285.3L364.1 286.4L364.6 287.5L365.2 288.6L365.7 289.7L366.2 290.7L366.8 291.8L367.4 292.8L368.0 293.8L368.7 294.9L369.3 295.9L370.0 296.9L370.7 297.9L371.4 298.9L372.1 299.8L372.9 300.8L373.7 301.7L374.5 302.6L375.3 303.5L376.1 304.3L377.0 305.2L377.9 306.0L378.8 306.8L379.7 307.5L380.7 308.2L381.6 308.9L382.6 309.5L383.7 310.2L384.7 310.8L385.7 311.3L386.8 311.9L387.9 312.4L389.0 312.9L390.0 313.5L391.1 314.0L392.2 314.5L393.3 315.0L394.4 315.5L395.5 316.0L396.6 316.5L397.7 317.0L398.8 317.5L399.9 317.9L401.1 318.4L402.2 318.8L403.3 319.2L404.5 319.6L405.6 319.9L406.7 320.3L407.9 320.6L409.0 320.9L410.2 321.2L411.4 321.5L412.5 321.8L413.7 322.1L414.9 322.3L416.0 322.6L417.2 322.8L418.4 323.0L419.6 323.2L420.7 323.4L421.9 323.6L423.1 323.8L424.3 324.0L425.5 324.1L426.7 324.3L427.9 324.4L429.1 324.5L430.3 324.7L431.5 324.8L432.7 324.9L433.9 325.0L435.1 325.1L436.3 325.2L437.5 325.3L438.7 325.4L439.9 325.5L441.0 325.5L442.2 325.6L443.4 325.7L444.6 325.7L445.8 325.8L447.0 325.9L448.2 325.9L449.4 326.0L450.6 326.0L451.8 326.1L453.0 326.1L454.2 326.1L455.4 326.2L456.6 326.2L457.8 326.2L459.0 326.2L460.2 326.3L461.4 326.3L462.6 326.3L463.8 326.3L465.0 326.3L466.2 326.3L467.4 326.3L468.6 326.4L469.8 326.4L471.0 326.4L472.2 326.4L473.4 326.4L474.6 326.4L475.8 326.4L477.0 326.4L478.2 326.4L479.4 326.4L480.6 326.4L481.8 326.4L483.0 326.4L484.2 326.4L485.4 326.4L486.6 326.4L487.8 326.4L489.0 326.4L490.2 326.4L491.4 326.4L492.6 326.4L493.8 326.4L495.0 326.4L496.2 326.4L497.4 326.4L498.6 326.4L499.8 326.5L501.0 326.5L502.2 326.5L503.4 326.5L504.6 326.5L505.8 326.5L507.0 326.5L508.2 326.5L509.4 326.5L510.6 326.5L511.8 326.5L513.0 326.5L514.2 326.5L515.4 326.5L516.6 326.5L517.8 326.5L519.0 326.6L520.2 326.6L521.4 326.6L522.6 326.6L523.8 326.6L525.0 326.6L526.2 326.6L527.4 326.6L528.6 326.6L529.8 326.6L531.0 326.6L532.2 326.6L533.4 326.6L534.6 326.6L535.8 326.6L537.0 326.6L538.2 326.7L539.4 326.7L540.6 326.7L541.8 326.7L543.0 326.7L544.2 326.7L545.4 326.7L546.6 326.7L547.8 326.7L549.0 326.7L550.2 326.7L551.4 326.7L552.6 326.7L553.8 326.7L555.0 326.7L556.2 326.7L557.4 326.7L558.6 326.7L559.8 326.7L561.0 326.8L562.2 326.8L563.4 326.8L564.6 326.8L565.8 326.8L567.0 326.8L568.2 326.8L569.4 326.8L570.6 326.8L571.8 326.8L573.0 326.8L574.2 326.8L575.4 326.8L576.6 326.8L577.8 326.8L579.0 326.8L580.2 326.8L581.4 326.8L582.6 326.8L583.8 326.8L585.0 326.8L586.2 326.9L587.4 326.9L588.6 326.9L589.8 326.9L591.0 326.9L592.2 326.9L593.4 326.9L594.6 326.9L595.8 326.9L597.0 326.9L598.2 326.9L599.4 326.9L600.6 326.9L601.8 326.9L603.0 326.9L604.2 326.9L605.4 326.9L606.6 326.9L607.8 326.9L609.0 327.0L610.2 327.0L611.4 327.0L612.6 327.0L613.8 327.0L615.0 327.0L616.2 327.0L617.4 327.0L618.6 327.0" stroke="#ff00ff" stroke-width="3" stroke-dasharray="10.5 12.2" stroke-dashoffset="14.79"/>
<path d="M56.3 327.0L57.5 327.0L58.7 326.9L59.9 326.9L61.1 326.9L62.3 326.9L63.5 326.9L64.7 326.9L65.9 326.9L67.1 326.9L68.3 326.9L69.5 326.8L70.7 326.8L71.9 326.8L73.1 326.8L74.3 326.7L75.5 326.7L76.7 326.7L77.9 326.7L79.1 326.6L80.3 326.6L81.5 326.6L82.7 326.5L83.9 326.5L85.1 326.5L86.3 326.4L87.5 326.4L88.7 326.4L89.9 326.3L91.1 326.3L92.3 326.3L93.5 326.2L94.7 326.2L95.9 326.1L97.1 326.1L98.3 326.1L99.5 326.0L100.7 326.0L101.9 325.9L103.1 325.9L104.3 325.9L105.5 325.8L106.7 325.8L107.9 325.7L109.1 325.7L110.3 325.6L111.5 325.6L112.7 325.5L113.9 325.5L115.1 325.4L116.2 325.4L117.4 325.3L118.6 325.3L119.8 325.3L121.0 325.2L122.2 325.2L123.4 325.1L124.6 325.0L125.8 325.0L127.0 324.9L128.2 324.9L129.4 324.8L130.6 324.7L131.8 324.7L133.0 324.6L134.2 324.5L135.4 324.4L136.6 324.3L137.8 324.2L139.1 324.1L140.3 324.0L141.5 323.8L142.7 323.7L143.9 323.5L145.1 323.2L146.2 322.9L147.3 322.5L148.3 322.0L149.4 321.4L150.3 320.8L151.2 320.0L152.1 319.2L152.9 318.3L153.7 317.4L154.4 316.4L155.0 315.4L155.7 314.3L156.3 313.2L156.8 312.1L157.4 311.0L157.8 309.9L158.3 308.8L158.7 307.7L159.2 306.6L159.6 305.5L160.1 304.4L160.5 303.3L161.0 302.2L161.4 301.1L161.9 300.0L162.3 298.8L162.7 297.7L163.0 296.5L163.3 295.4L163.6 294.2L163.9 293.0L164.2 291.9L164.4 290.7L164.6 289.5L164.9 288.3L165.1 287.2L165.3 286.0L165.5 284.8L165.7 283.6L165.9 282.4L166.1 281.3L166.3 280.1L166.5 278.9L166.6 277.7L166.8 276.5L167.0 275.3L167.1 274.1L167.3 272.9L167.4 271.8L167.6 270.6L167.7 269.4L167.8 268.2L168.0 267.0L168.1 265.8L168.2 264.6L168.3 263.4L168.4 262.2L168.6 261.0L168.7 259.8L168.8 258.6L168.9 257.4L169.0 256.2L169.1 255.0L169.2 253.8L169.3 252.6L169.4 251.5L169.4 250.3L169.5 249.1L169.6 247.9L169.7 246.7L169.8 245.5L169.9 244.3L169.9 243.1L170.0 241.9L170.1 240.7L170.2 239.5L170.2 238.3L170.3 237.1L170.4 235.9L170.5 234.7L170.5 233.5L170.6 232.3L170.7 231.1L170.7 229.9L170.8 228.7L170.9 227.5L170.9 226.3L171.0 225.1L171.0 223.9L171.1 222.7L171.2 221.5L171.2 220.3L171.3 219.1L171.3 217.9L171.4 216.7L171.4 215.5L171.5 214.3L171.6 213.1L171.6 211.9L171.7 210.7L171.7 209.5L171.8 208.3L171.8 207.1L171.9 205.9L171.9 204.7L171.9 203.5L172.0 202.3L172.0 201.1L172.1 200.0L172.1 198.8L172.2 197.6L172.2 196.4L172.3 195.2L172.3 194.0L172.3 192.8L172.4 191.6L172.4 190.4L172.5 189.2L172.5 188.0L172.6 186.8L172.6 185.6L172.6 184.4L172.7 183.2L172.7 182.0L172.8 180.8L172.8 179.6L172.8 178.4L172.9 177.2L172.9 176.0L172.9 174.8L173.0 173.6L173.0 172.4L173.1 171.2L173.1 170.0L173.1 168.8L173.2 167.6L173.2 166.4L173.3 165.2L173.3 164.0L173.3 162.8L173.4 161.6L173.4 160.4L173.5 159.2L173.5 158.0L173.5 156.8L173.6 155.6L173.6 154.4L173.7 153.2L173.7 152.0L173.8 150.8L173.8 149.6L173.8 148.4L173.9 147.2L173.9 146.0L174.0 144.8L174.0 143.6L174.1 142.4L174.1 141.2L174.2 140.0L174.2 138.8L174.3 137.6L174.3 136.4L174.4 135.2L174.4 134.0L174.5 132.8L174.5 131.6L174.6 130.4L174.6 129.2L174.7 128.0L174.7 126.8L174.8 125.6L174.9 124.4L174.9 123.2L175.0 122.0L175.0 120.8L175.1 119.6L175.1 118.4L175.2 117.2L175.2 116.0L175.3 114.8L175.4 113.6L175.4 112.4L175.5 111.2L175.5 110.0L175.6 108.8L175.6 107.6L175.7 106.4L175.7 105.2L175.8 104.0L175.8 102.8L175.9 101.6L175.9 100.4L176.0 99.2L176.0 98.0L176.1 96.9L176.1 95.7L176.2 94.5L176.2 93.3L176.2 92.1L176.3 90.9L176.3 89.7L176.4 88.5L176.4 87.3L176.4 86.1L176.5 84.9L176.5 83.7L176.5 82.5L176.6 81.3L176.6 80.1L176.6 78.9L176.7 77.7L176.7 76.5L176.8 75.3L176.8 74.1L176.9 72.9L176.9 71.7L177.0 70.5L177.0 69.3L177.1 68.1L177.2 66.9L177.2 65.7L177.3 64.5L177.4 63.3L177.4 62.1L177.5 60.9L177.6 59.7L177.7 58.5L177.8 57.3L177.9 56.1L178.0 54.9L178.1 53.6L178.3 52.4L178.4 51.2L178.5 50.1L178.6 48.9L178.7 47.7L178.8 46.5L178.9 45.4L178.9 44.2L179.0 43.1L179.1 42.0L179.1 40.9L179.2 39.7L179.2 38.5L179.4 37.1L179.5 35.6L179.7 34.0L179.9 32.5L180.2 31.0L180.4 29.8L180.7 29.0L181.0 28.8L181.3 29.1L181.5 30.0L181.7 31.3L181.9 32.8L182.1 34.3L182.3 35.8L182.4 37.1L182.5 38.4L182.5 39.6L182.6 40.7L182.7 41.9L182.7 43.0L182.8 44.2L182.9 45.3L182.9 46.5L183.0 47.7L183.1 48.8L183.2 50.0L183.2 51.2L183.3 52.4L183.4 53.6L183.5 54.8L183.5 56.0L183.6 57.2L183.7 58.4L183.8 59.6L183.8 60.8L183.9 62.0L184.0 63.3L184.1 64.5L184.1 65.7L184.2 66.9L184.2 68.1L184.3 69.3L184.4 70.5L184.4 71.7L184.5 72.9L184.5 74.1L184.6 75.3L184.6 76.5L184.6 77.7L184.7 78.9L184.7 80.1L184.8 81.3L184.8 82.5L184.9 83.7L184.9 84.9L185.0 86.1L185.0 87.3L185.1 88.5L185.1 89.7L185.2 90.9L185.2 92.1L185.3 93.2L185.3 94.4L185.4 95.6L185.5 96.8L185.5 98.0L185.6 99.2L185.7 100.4L185.8 101.6L185.8 102.8L185.9 104.0L186.0 105.2L186.1 106.4L186.2 107.6L186.2 108.8L186.3 110.0L186.4 111.2L186.5 112.4L186.6 113.6L186.7 114.8L186.8 116.0L186.8 117.2L186.9 118.4L187.0 119.6L187.1 120.8L187.2 122.0L187.3 123.2L187.4 124.4L187.5 125.6L187.6 126.7L187.7 127.9L187.8 129.1L187.9 130.3L188.0 131.5L188.1 132.7L188.2 133.9L188.2 135.1L188.3 136.3L188.4 137.5L188.5 138.7L188.6 139.9L188.7 141.1L188.8 142.3L188.9 143.5L189.0 144.7L189.1 145.9L189.2 147.1L189.2 148.3L189.3 149.5L189.4 150.7L189.5 151.9L189.6 153.1L189.7 154.3L189.8 155.5L189.9 156.7L190.0 157.9L190.0 159.1L190.1 160.3L190.2 161.5L190.3 162.6L190.4 163.8L190.5 165.0L190.6 166.2L190.7 167.4L190.8 168.6L190.9 169.8L191.0 171.0L191.1 172.2L191.2 173.4L191.3 174.6L191.4 175.8L191.5 177.0L191.7 178.2L191.8 179.4L191.9 180.6L192.0 181.8L192.1 182.9L192.3 184.1L192.4 185.3L192.5 186.5L192.7 187.7L192.8 188.9L193.0 190.1L193.1 191.3L193.3 192.5L193.4 193.7L193.6 194.9L193.7 196.0L193.9 197.2L194.1 198.4L194.2 199.6L194.4 200.8L194.6 202.0L194.8 203.2L195.0 204.4L195.1 205.5L195.3 206.7L195.5 207.9L195.7 209.1L196.0 210.3L196.2 211.4L196.4 212.6L196.7 213.8L196.9 215.0L197.2 216.1L197.5 217.3L197.9 218.5L198.2 219.6L198.6 220.8L199.0 221.9L199.4 223.0L199.7 224.2L200.1 225.3L200.4 226.4L200.7 227.6L201.0 228.7L201.3 229.8L201.7 231.0L202.0 232.1L202.5 233.2L203.0 234.4L203.6 235.6L204.3 236.7L205.2 237.8L206.0 238.7L207.0 239.5L208.0 240.0L209.1 240.2L210.2 240.1L211.3 239.6L212.4 239.0L213.4 238.1L214.3 237.2L215.1 236.3L215.8 235.3L216.4 234.2L217.0 233.2L217.5 232.1L218.0 231.1L218.5 230.0L219.0 228.9L219.5 227.8L220.0 226.7L220.4 225.6L220.9 224.5L221.4 223.4L221.8 222.3L222.2 221.1L222.6 220.0L223.0 218.9L223.4 217.7L223.8 216.6L224.2 215.5L224.5 214.3L224.9 213.2L225.2 212.0L225.6 210.9L225.9 209.7L226.2 208.6L226.5 207.4L226.8 206.2L227.1 205.1L227.4 203.9L227.7 202.7L228.0 201.6L228.3 200.4L228.5 199.2L228.8 198.1L229.1 196.9L229.3 195.7L229.6 194.6L229.8 193.4L230.0 192.2L230.3 191.0L230.5 189.9L230.7 188.7L230.9 187.5L231.1 186.3L231.4 185.1L231.6 184.0L231.8 182.8L232.0 181.6L232.2 180.4L232.3 179.2L232.5 178.0L232.7 176.9L232.9 175.7L233.1 174.5L233.2 173.3L233.4 172.1L233.6 170.9L233.7 169.7L233.9 168.5L234.0 167.4L234.2 166.2L234.4 165.0L234.5 163.8L234.6 162.6L234.8 161.4L234.9 160.2L235.1 159.0L235.2 157.8L235.4 156.6L235.5 155.4L235.6 154.3L235.8 153.1L235.9 151.9L236.0 150.7L236.1 149.5L236.3 148.3L236.4 147.1L236.5 145.9L236.6 144.7L236.8 143.5L236.9 142.3L237.0 141.1L237.1 139.9L237.2 138.7L237.3 137.5L237.5 136.3L237.6 135.2L237.7 134.0L237.8 132.8L237.9 131.6L238.0 130.4L238.2 129.2L238.3 128.0L238.4 126.8L238.5 125.6L238.6 124.4L238.7 123.2L238.8 122.0L239.0 120.8L239.1 119.6L239.2 118.4L239.3 117.2L239.4 116.0L239.5 114.9L239.7 113.7L239.8 112.5L239.9 111.3L240.0 110.1L240.1 108.9L240.3 107.7L240.4 106.5L240.5 105.3L240.6 104.1L240.8 102.9L240.9 101.7L241.0 100.5L241.1 99.3L241.3 98.2L241.4 97.0L241.5 95.8L241.6 94.6L241.8 93.4L241.9 92.2L242.0 91.0L242.1 89.8L242.3 88.6L242.4 87.4L242.5 86.2L242.6 85.0L242.7 83.8L242.9 82.6L243.0 81.5L243.1 80.3L243.2 79.1L243.3 77.9L243.5 76.7L243.6 75.5L243.7 74.3L243.8 73.1L243.9 71.9L244.0 70.7L244.1 69.5L244.3 68.3L244.4 67.1L244.5 65.9L244.6 64.7L244.7 63.5L244.8 62.3L244.9 61.1L245.0 59.9L245.1 58.7L245.2 57.5L245.3 56.3L245.4 55.1L245.5 53.9L245.6 52.7L245.7 51.6L245.8 50.4L245.9 49.2L246.0 48.0L246.0 46.8L246.2 45.6L246.3 44.4L246.4 43.2L246.5 42.0L246.6 40.8L246.7 39.6L246.8 38.4L246.9 37.2L247.1 36.1L247.2 34.9L247.3 33.7L247.5 32.5L247.6 31.3L247.8 30.2L248.0 29.0L248.1 27.8L248.3 26.6L248.6 25.5L248.8 24.2L249.2 23.0L249.6 21.7L250.1 20.4L250.7 19.5L251.3 19.2L251.9 19.8L252.5 21.0L253.0 22.3L253.4 23.7L253.7 24.9L253.8 26.2L254.0 27.3L254.1 28.5L254.2 29.6L254.3 30.7L254.5 31.9L254.6 33.1L254.8 34.3L254.9 35.5L255.1 36.7L255.2 37.9L255.3 39.1L255.4 40.3L255.5 41.5L255.6 42.7L255.7 43.9L255.8 45.1L255.8 46.3L255.9 47.5L255.9 48.7L256.0 49.9L256.1 51.1L256.1 52.2L256.2 53.4L256.3 54.6L256.4 55.8L256.5 57.0L256.5 58.2L256.6 59.4L256.7 60.6L256.8 61.8L256.9 63.0L257.0 64.2L257.1 65.4L257.2 66.6L257.3 67.8L257.4 69.0L257.5 70.2L257.5 71.4L257.6 72.6L257.7 73.8L257.8 75.0L257.9 76.2L258.0 77.4L258.1 78.6L258.2 79.8L258.3 81.0L258.4 82.1L258.5 83.3L258.6 84.5L258.7 85.7L258.8 86.9L258.9 88.1L259.0 89.3L259.1 90.5L259.1 91.7L259.2 92.9L259.3 94.1L259.4 95.3L259.5 96.5L259.5 97.7L259.6 98.9L259.7 100.1L259.8 101.3L259.8 102.5L259.9 103.7L260.0 104.9L260.1 106.1L260.1 107.3L260.2 108.5L260.3 109.7L260.4 110.9L260.4 112.1L260.5 113.3L260.6 114.5L260.6 115.7L260.7 116.9L260.8 118.1L260.9 119.3L260.9 120.5L261.0 121.7L261.1 122.9L261.2 124.0L261.2 125.2L261.3 126.4L261.4 127.6L261.5 128.8L261.5 130.0L261.6 131.2L261.7 132.4L261.8 133.6L261.9 134.8L262.0 136.0L262.1 137.2L262.2 138.4L262.2 139.6L262.3 140.8L262.4 142.0L262.5 143.2L262.6 144.4L262.7 145.6L262.9 146.8L263.0 148.0L263.1 149.2L263.2 150.4L263.3 151.6L263.4 152.7L263.5 153.9L263.6 155.1L263.7 156.3L263.9 157.5L264.0 158.7L264.1 159.9L264.2 161.1L264.3 162.3L264.4 163.5L264.6 164.7L264.7 165.9L264.8 167.1L264.9 168.3L265.0 169.5L265.1 170.7L265.2 171.8L265.4 173.0L265.5 174.2L265.6 175.4L265.7 176.6L265.8 177.8L265.9 179.0L266.0 180.2L266.1 181.4L266.2 182.6L266.3 183.8L266.4 185.0L266.5 186.2L266.6 187.4L266.7 188.6L266.8 189.8L266.9 191.0L267.0 192.2L267.1 193.4L267.2 194.6L267.3 195.8L267.4 197.0L267.5 198.2L267.6 199.4L267.6 200.5L267.7 201.7L267.8 202.9L267.9 204.1L268.0 205.3L268.2 206.5L268.3 207.7L268.4 208.9L268.5 210.1L268.6 211.3L268.7 212.5L268.8 213.7L268.9 214.9L269.1 216.1L269.2 217.3L269.3 218.5L269.5 219.6L269.6 220.8L269.7 222.0L269.9 223.2L270.0 224.4L270.2 225.6L270.3 226.8L270.5 228.0L270.7 229.2L270.8 230.3L271.0 231.5L271.2 232.7L271.4 233.9L271.6 235.1L271.8 236.3L272.0 237.4L272.2 238.6L272.4 239.8L272.6 241.0L272.8 242.2L273.0 243.4L273.3 244.5L273.5 245.7L273.7 246.9L274.0 248.1L274.2 249.2L274.4 250.4L274.7 251.6L274.9 252.8L275.1 254.0L275.4 255.1L275.6 256.3L275.8 257.5L276.1 258.7L276.3 259.8L276.6 261.0L276.8 262.2L277.0 263.3L277.3 264.5L277.5 265.7L277.7 266.9L278.0 268.0L278.2 269.2L278.4 270.4L278.6 271.6L278.9 272.7L279.1 273.9L279.4 275.1L279.6 276.3L279.9 277.4L280.1 278.6L280.4 279.8L280.7 281.0L281.0 282.2L281.3 283.3L281.7 284.5L282.1 285.6L282.5 286.7L283.0 287.8L283.6 288.8L284.3 289.8L285.0 290.8L285.7 291.7L286.4 292.7L287.2 293.6L287.9 294.6L288.5 295.6L289.2 296.6L289.8 297.6L290.5 298.6L291.1 299.6L291.8 300.6L292.5 301.6L293.2 302.6L294.0 303.5L294.8 304.4L295.6 305.3L296.4 306.2L297.3 307.0L298.1 307.8L299.0 308.6L300.0 309.4L300.9 310.1L301.9 310.8L302.8 311.5L303.8 312.2L304.9 312.8L305.9 313.4L306.9 314.0L308.0 314.6L309.1 315.1L310.2 315.7L311.3 316.2L312.4 316.7L313.5 317.1L314.6 317.6L315.7 318.0L316.9 318.4L318.0 318.8L319.1 319.1L320.3 319.4L321.4 319.8L322.6 320.1L323.8 320.3L324.9 320.6L326.1 320.9L327.3 321.1L328.4 321.3L329.6 321.5L330.8 321.7L332.0 321.9L333.2 322.0L334.3 322.2L335.5 322.3L336.7 322.5L337.9 322.6L339.1 322.7L340.3 322.8L341.5 322.9L342.7 323.0L343.9 323.1L345.1 323.1L346.3 323.2L347.5 323.3L348.7 323.3L349.9 323.4L351.1 323.4L352.3 323.5L353.5 323.5L354.7 323.6L355.9 323.6L357.1 323.7L358.3 323.7L359.5 323.8L360.7 323.8L361.9 323.9L363.1 323.9L364.3 323.9L365.5 324.0L366.7 324.0L367.9 324.1L369.1 324.1L370.3 324.1L371.5 324.2L372.7 324.2L373.9 324.2L375.1 324.3L376.3 324.3L377.5 324.3L378.7 324.4L379.9 324.4L381.1 324.4L382.3 324.5L383.5 324.5L384.7 324.5L385.9 324.5L387.1 324.6L388.3 324.6L389.5 324.6L390.7 324.7L391.9 324.7L393.1 324.7L394.3 324.7L395.5 324.8L396.7 324.8L397.9 324.8L399.1 324.8L400.3 324.8L401.5 324.9L402.7 324.9L403.9 324.9L405.1 324.9L406.3 325.0L407.5 325.0L408.7 325.0L409.9 325.0L411.1 325.1L412.3 325.1L413.5 325.1L414.7 325.1L415.9 325.1L417.1 325.2L418.3 325.2L419.5 325.2L420.7 325.2L421.9 325.2L423.1 325.3L424.3 325.3L425.5 325.3L426.7 325.3L427.9 325.3L429.1 325.4L430.3 325.4L431.5 325.4L432.7 325.4L433.9 325.4L435.1 325.5L436.3 325.5L437.5 325.5L438.7 325.5L439.9 325.5L441.1 325.5L442.2 325.6L443.4 325.6L444.6 325.6L445.8 325.6L447.0 325.6L448.2 325.7L449.4 325.7L450.6 325.7L451.8 325.7L453.0 325.7L454.2 325.7L455.4 325.8L456.6 325.8L457.8 325.8L459.0 325.8L460.2 325.8L461.4 325.8L462.6 325.8L463.8 325.9L465.0 325.9L466.2 325.9L467.4 325.9L468.6 325.9L469.8 325.9L471.0 325.9L472.2 326.0L473.4 326.0L474.6 326.0L475.8 326.0L477.0 326.0L478.2 326.0L479.4 326.0L480.6 326.1L481.8 326.1L483.0 326.1L484.2 326.1L485.4 326.1L486.6 326.1L487.8 326.1L489.0 326.1L490.2 326.2L491.4 326.2L492.6 326.2L493.8 326.2L495.0 326.2L496.2 326.2L497.4 326.2L498.6 326.2L499.8 326.2L501.0 326.3L502.2 326.3L503.4 326.3L504.6 326.3L505.8 326.3L507.0 326.3L508.2 326.3L509.4 326.3L510.6 326.3L511.8 326.3L513.0 326.4L514.2 326.4L515.4 326.4L516.6 326.4L517.8 326.4L519.0 326.4L520.2 326.4L521.4 326.4L522.6 326.4L523.8 326.4L525.0 326.4L526.2 326.5L527.4 326.5L528.6 326.5L529.8 326.5L531.0 326.5L532.2 326.5L533.4 326.5L534.6 326.5L535.8 326.5L537.0 326.5L538.2 326.5L539.4 326.5L540.6 326.5L541.8 326.5L543.0 326.6L544.2 326.6L545.4 326.6L546.6 326.6L547.8 326.6L549.0 326.6L550.2 326.6L551.4 326.6L552.6 326.6L553.8 326.6L555.0 326.6L556.2 326.6L557.4 326.6L558.6 326.6L559.8 326.6L561.0 326.6L562.2 326.6L563.4 326.6L564.6 326.7L565.8 326.7L567.0 326.7L568.2 326.7L569.4 326.7L570.6 326.7L571.8 326.7L573.0 326.7L574.2 326.7L575.4 326.7L576.6 326.7L577.8 326.7L579.0 326.7L580.2 326.7L581.4 326.7L582.6 326.7L583.8 326.7L585.0 326.7L586.2 326.7L587.4 326.7L588.6 326.7L589.8 326.7L591.0 326.7L592.2 326.7L593.4 326.7L594.6 326.7L595.8 326.7L597.0 326.7L598.2 326.7L599.4 326.7L600.6 326.7L601.8 326.7L603.0 326.7L604.2 326.7L605.4 326.7L606.6 326.7L607.8 326.8L609.0 326.8L610.2 326.8L611.4 326.8L612.6 326.8L613.8 326.8L615.0 326.8L616.2 326.8L617.4 326.8L618.6 326.8" stroke="#ff0000" stroke-width="3" stroke-dasharray="2.9 2.95" stroke-dashoffset="1.95"/>
<path d="M56.3 327.0L57.5 327.0L58.7 327.0L59.9 327.0L61.1 327.0L62.3 327.0L63.5 327.0L64.7 327.0L65.9 327.0L67.1 327.0L68.3 327.0L69.5 327.0L70.7 327.0L71.9 327.0L73.1 327.0L74.3 327.0L75.5 327.0L76.7 327.0L77.9 326.9L79.1 326.9L80.3 326.9L81.5 326.9L82.7 326.9L83.9 326.8L85.1 326.8L86.3 326.8L87.5 326.8L88.7 326.7L89.9 326.7L91.1 326.6L92.3 326.5L93.5 326.4L94.7 326.3L95.8 326.1L97.0 325.9L98.2 325.7L99.4 325.4L100.5 325.1L101.7 324.8L102.9 324.5L104.0 324.2L105.2 323.8L106.3 323.4L107.4 322.8L108.4 322.2L109.4 321.5L110.3 320.7L111.1 319.8L111.8 318.8L112.4 317.8L112.9 316.8L113.4 315.7L113.8 314.5L114.1 313.4L114.5 312.2L114.8 311.0L115.0 309.8L115.3 308.7L115.5 307.5L115.7 306.3L115.9 305.1L116.1 303.9L116.2 302.7L116.4 301.6L116.5 300.4L116.6 299.2L116.7 298.0L116.8 296.8L116.9 295.6L117.0 294.4L117.1 293.2L117.2 292.0L117.2 290.8L117.3 289.6L117.4 288.4L117.5 287.2L117.6 286.0L117.7 284.8L117.8 283.6L117.8 282.4L117.9 281.2L118.0 280.0L118.1 278.8L118.2 277.7L118.3 276.5L118.4 275.3L118.4 274.1L118.5 272.9L118.6 271.7L118.7 270.5L118.7 269.3L118.8 268.1L118.9 266.9L118.9 265.7L119.0 264.5L119.1 263.3L119.1 262.1L119.2 260.9L119.2 259.7L119.3 258.5L119.4 257.3L119.4 256.1L119.5 254.9L119.5 253.7L119.6 252.5L119.6 251.3L119.7 250.1L119.7 248.9L119.7 247.7L119.8 246.5L119.8 245.3L119.9 244.1L119.9 242.9L120.0 241.7L120.0 240.5L120.0 239.3L120.1 238.1L120.1 236.9L120.2 235.7L120.2 234.5L120.2 233.3L120.3 232.1L120.3 230.9L120.3 229.7L120.4 228.5L120.4 227.3L120.4 226.1L120.5 224.9L120.5 223.7L120.5 222.5L120.6 221.3L120.6 220.1L120.6 218.9L120.7 217.7L120.7 216.5L120.7 215.3L120.8 214.1L120.8 212.9L120.8 211.7L120.9 210.5L120.9 209.3L120.9 208.1L121.0 206.9L121.0 205.7L121.0 204.5L121.1 203.3L121.1 202.1L121.1 200.9L121.2 199.7L121.2 198.5L121.3 197.3L121.3 196.1L121.3 194.9L121.4 193.7L121.4 192.5L121.4 191.4L121.5 190.2L121.5 189.0L121.5 187.8L121.6 186.6L121.6 185.4L121.7 184.2L121.7 183.0L121.7 181.8L121.8 180.6L121.8 179.4L121.8 178.2L121.9 177.0L121.9 175.8L121.9 174.6L122.0 173.4L122.0 172.2L122.1 171.0L122.1 169.8L122.1 168.6L122.2 167.4L122.2 166.2L122.2 165.0L122.2 163.8L122.3 162.6L122.3 161.4L122.3 160.2L122.4 159.0L122.4 157.8L122.4 156.6L122.4 155.4L122.5 154.2L122.5 153.0L122.5 151.8L122.5 150.6L122.5 149.4L122.6 148.2L122.6 147.0L122.6 145.8L122.6 144.6L122.7 143.4L122.7 142.2L122.7 141.0L122.7 139.8L122.8 138.6L122.8 137.4L122.8 136.2L122.8 135.0L122.9 133.8L122.9 132.6L122.9 131.4L123.0 130.2L123.0 129.0L123.0 127.8L123.1 126.6L123.1 125.4L123.2 124.2L123.2 123.0L123.2 121.8L123.3 120.6L123.3 119.4L123.4 118.2L123.4 117.0L123.5 115.8L123.5 114.6L123.6 113.3L123.6 112.1L123.7 111.0L123.7 109.8L123.7 108.7L123.8 107.6L123.8 106.5L123.9 105.3L123.9 104.0L124.0 102.5L124.1 100.9L124.3 99.3L124.4 97.8L124.5 96.5L124.7 95.6L124.8 95.1L125.0 95.1L125.2 95.7L125.3 96.8L125.5 98.1L125.6 99.6L125.7 101.2L125.8 102.8L125.9 104.2L125.9 105.5L125.9 106.7L126.0 107.8L126.0 108.9L126.0 110.1L126.0 111.2L126.0 112.4L126.0 113.6L126.1 114.8L126.1 116.0L126.1 117.2L126.1 118.4L126.2 119.6L126.2 120.8L126.2 122.0L126.2 123.2L126.3 124.4L126.3 125.6L126.3 126.8L126.3 128.0L126.4 129.2L126.4 130.4L126.4 131.6L126.4 132.8L126.5 134.0L126.5 135.2L126.5 136.4L126.5 137.6L126.6 138.8L126.6 140.0L126.6 141.2L126.7 142.4L126.7 143.6L126.7 144.8L126.7 146.0L126.8 147.2L126.8 148.4L126.8 149.6L126.9 150.8L126.9 152.0L126.9 153.2L127.0 154.4L127.0 155.6L127.0 156.8L127.1 158.0L127.1 159.2L127.1 160.4L127.2 161.6L127.2 162.8L127.2 164.0L127.3 165.2L127.3 166.4L127.3 167.6L127.4 168.8L127.4 170.0L127.4 171.2L127.5 172.4L127.5 173.6L127.5 174.8L127.6 176.0L127.6 177.2L127.6 178.4L127.7 179.6L127.7 180.8L127.8 182.0L127.8 183.2L127.8 184.4L127.9 185.6L127.9 186.8L128.0 188.0L128.0 189.2L128.0 190.4L128.1 191.6L128.1 192.8L128.2 194.0L128.2 195.2L128.2 196.4L128.3 197.6L128.3 198.8L128.4 200.0L128.4 201.2L128.5 202.4L128.5 203.6L128.5 204.8L128.6 206.0L128.6 207.2L128.7 208.4L128.7 209.6L128.8 210.8L128.8 212.0L128.9 213.2L128.9 214.4L129.0 215.6L129.0 216.8L129.1 218.0L129.1 219.2L129.2 220.4L129.2 221.6L129.3 222.8L129.3 224.0L129.4 225.2L129.4 226.4L129.5 227.6L129.5 228.8L129.6 230.0L129.6 231.2L129.7 232.4L129.7 233.6L129.8 234.8L129.9 235.9L129.9 237.1L130.0 238.3L130.0 239.5L130.1 240.7L130.2 241.9L130.2 243.1L130.3 244.3L130.4 245.5L130.5 246.7L130.5 247.9L130.6 249.1L130.7 250.3L130.8 251.5L130.9 252.7L131.0 253.9L131.1 255.1L131.2 256.3L131.3 257.5L131.4 258.7L131.5 259.9L131.7 261.1L131.8 262.3L131.9 263.4L132.1 264.6L132.2 265.8L132.4 267.0L132.5 268.2L132.7 269.4L132.9 270.6L133.1 271.8L133.3 272.9L133.5 274.1L133.7 275.3L133.9 276.5L134.1 277.7L134.3 278.8L134.5 280.0L134.8 281.2L135.0 282.4L135.3 283.6L135.5 284.7L135.7 285.9L135.9 287.1L136.1 288.3L136.4 289.5L136.6 290.6L136.9 291.8L137.3 292.9L137.7 294.1L138.2 295.2L138.8 296.3L139.4 297.3L140.1 298.3L140.8 299.2L141.7 300.0L142.6 300.8L143.5 301.6L144.5 302.3L145.5 303.1L146.6 303.7L147.7 304.3L148.8 304.7L149.9 304.8L151.1 304.7L152.3 304.5L153.4 304.0L154.5 303.5L155.6 302.8L156.6 302.1L157.5 301.4L158.4 300.6L159.3 299.7L160.1 298.9L160.9 298.0L161.7 297.0L162.4 296.1L163.1 295.1L163.6 294.0L164.2 293.0L164.6 291.8L165.0 290.7L165.4 289.6L165.7 288.4L166.1 287.2L166.4 286.1L166.7 284.9L167.0 283.8L167.3 282.6L167.7 281.5L168.0 280.3L168.4 279.2L168.7 278.0L169.1 276.9L169.4 275.7L169.7 274.5L170.0 273.4L170.3 272.2L170.5 271.0L170.7 269.9L170.8 268.7L170.9 267.5L171.0 266.3L171.1 265.1L171.2 263.9L171.3 262.7L171.4 261.5L171.5 260.3L171.6 259.1L171.7 257.9L171.8 256.7L171.9 255.5L172.0 254.3L172.1 253.1L172.2 251.9L172.3 250.7L172.4 249.5L172.5 248.3L172.6 247.2L172.7 246.0L172.8 244.8L172.9 243.6L173.0 242.4L173.1 241.2L173.2 240.0L173.3 238.8L173.4 237.6L173.5 236.4L173.6 235.2L173.6 234.0L173.7 232.8L173.8 231.6L173.9 230.4L174.0 229.2L174.0 228.0L174.1 226.8L174.2 225.6L174.3 224.4L174.4 223.2L174.4 222.0L174.5 220.8L174.6 219.6L174.6 218.4L174.7 217.2L174.8 216.0L174.9 214.8L174.9 213.6L175.0 212.4L175.1 211.2L175.1 210.1L175.2 208.9L175.3 207.7L175.3 206.5L175.4 205.3L175.4 204.1L175.5 202.9L175.6 201.7L175.6 200.5L175.7 199.3L175.8 198.1L175.8 196.9L175.9 195.7L175.9 194.5L176.0 193.3L176.1 192.1L176.1 190.9L176.2 189.7L176.2 188.5L176.3 187.3L176.3 186.1L176.4 184.9L176.5 183.7L176.5 182.5L176.6 181.3L176.6 180.1L176.7 178.9L176.8 177.7L176.8 176.5L176.9 175.3L176.9 174.1L177.0 172.9L177.0 171.7L177.1 170.5L177.1 169.3L177.2 168.1L177.3 166.9L177.3 165.7L177.4 164.5L177.4 163.3L177.5 162.1L177.5 160.9L177.6 159.7L177.6 158.5L177.7 157.3L177.7 156.1L177.8 154.9L177.8 153.7L177.9 152.5L177.9 151.3L178.0 150.1L178.0 148.9L178.1 147.7L178.1 146.5L178.2 145.3L178.2 144.1L178.3 143.0L178.3 141.8L178.4 140.6L178.4 139.4L178.5 138.2L178.5 137.0L178.6 135.8L178.6 134.6L178.7 133.4L178.7 132.2L178.8 131.0L178.8 129.8L178.9 128.6L178.9 127.4L179.0 126.2L179.0 125.0L179.1 123.8L179.1 122.6L179.1 121.4L179.2 120.2L179.2 119.0L179.3 117.8L179.3 116.6L179.4 115.4L179.4 114.2L179.5 113.0L179.5 111.8L179.5 110.6L179.6 109.4L179.6 108.2L179.7 107.0L179.7 105.8L179.7 104.6L179.8 103.4L179.8 102.2L179.9 101.0L179.9 99.8L180.0 98.6L180.0 97.4L180.0 96.2L180.1 95.0L180.1 93.8L180.1 92.6L180.2 91.4L180.2 90.2L180.3 89.0L180.3 87.8L180.3 86.6L180.4 85.4L180.4 84.2L180.5 83.0L180.5 81.8L180.5 80.6L180.6 79.4L180.6 78.2L180.7 77.0L180.7 75.8L180.8 74.6L180.8 73.4L180.9 72.2L180.9 71.0L181.0 69.8L181.1 68.6L181.1 67.4L181.2 66.2L181.3 65.0L181.3 63.8L181.4 62.6L181.5 61.4L181.5 60.2L181.6 59.1L181.6 58.0L181.7 56.9L181.7 55.7L181.8 54.5L181.9 53.2L182.0 51.8L182.2 50.3L182.4 48.8L182.6 47.5L182.8 46.5L183.0 46.0L183.2 46.1L183.4 46.8L183.5 47.9L183.6 49.3L183.7 50.8L183.9 52.5L184.0 54.2L184.0 55.7L184.1 57.1L184.2 58.3L184.3 59.4L184.3 60.5L184.4 61.6L184.5 62.7L184.5 63.9L184.6 65.1L184.6 66.3L184.7 67.5L184.8 68.7L184.8 69.9L184.8 71.2L184.9 72.4L184.9 73.6L185.0 74.8L185.0 76.0L185.0 77.2L185.1 78.4L185.1 79.6L185.1 80.8L185.2 82.0L185.2 83.2L185.2 84.4L185.3 85.6L185.3 86.8L185.3 87.9L185.4 89.1L185.4 90.3L185.5 91.5L185.5 92.7L185.5 93.9L185.6 95.1L185.6 96.3L185.6 97.5L185.7 98.7L185.7 99.9L185.8 101.1L185.8 102.3L185.9 103.5L185.9 104.7L185.9 105.9L186.0 107.1L186.0 108.3L186.1 109.5L186.1 110.7L186.1 111.9L186.2 113.1L186.2 114.3L186.3 115.5L186.3 116.7L186.4 117.9L186.4 119.1L186.4 120.3L186.5 121.5L186.5 122.7L186.6 123.9L186.6 125.1L186.7 126.3L186.7 127.5L186.8 128.7L186.8 129.9L186.8 131.1L186.9 132.3L186.9 133.5L187.0 134.7L187.0 135.9L187.1 137.1L187.1 138.3L187.2 139.5L187.2 140.7L187.2 141.9L187.3 143.1L187.3 144.3L187.4 145.5L187.4 146.7L187.5 147.9L187.5 149.1L187.6 150.3L187.6 151.5L187.7 152.7L187.7 153.9L187.7 155.1L187.8 156.3L187.8 157.5L187.9 158.7L187.9 159.9L188.0 161.1L188.0 162.3L188.1 163.5L188.1 164.7L188.1 165.9L188.2 167.1L188.2 168.3L188.3 169.5L188.3 170.7L188.4 171.9L188.4 173.1L188.4 174.3L188.5 175.5L188.5 176.7L188.6 177.8L188.6 179.0L188.6 180.2L188.7 181.4L188.7 182.6L188.8 183.8L188.8 185.0L188.9 186.2L188.9 187.4L188.9 188.6L189.0 189.8L189.0 191.0L189.1 192.2L189.1 193.4L189.1 194.6L189.2 195.8L189.2 197.0L189.3 198.2L189.3 199.4L189.3 200.6L189.4 201.8L189.4 203.0L189.5 204.2L189.5 205.4L189.6 206.6L189.6 207.8L189.7 209.0L189.7 210.2L189.7 211.4L189.8 212.6L189.8 213.8L189.9 215.0L189.9 216.2L190.0 217.4L190.0 218.6L190.1 219.8L190.1 221.0L190.2 222.2L190.2 223.4L190.3 224.6L190.3 225.8L190.4 227.0L190.5 228.2L190.5 229.4L190.6 230.6L190.6 231.8L190.7 233.0L190.8 234.2L190.8 235.4L190.9 236.6L191.0 237.8L191.1 239.0L191.1 240.2L191.2 241.4L191.3 242.6L191.4 243.8L191.5 244.9L191.6 246.1L191.8 247.3L191.9 248.5L192.0 249.7L192.2 250.9L192.3 252.1L192.5 253.3L192.7 254.5L192.9 255.6L193.1 256.8L193.3 258.0L193.5 259.2L193.7 260.4L193.9 261.6L194.1 262.8L194.2 263.9L194.4 265.1L194.5 266.3L194.6 267.5L194.7 268.7L194.8 269.9L194.9 271.1L195.0 272.3L195.1 273.5L195.2 274.7L195.2 275.9L195.3 277.1L195.5 278.3L195.6 279.5L195.7 280.7L195.8 281.9L196.0 283.0L196.1 284.2L196.2 285.4L196.4 286.6L196.5 287.8L196.7 289.0L196.8 290.2L197.0 291.4L197.1 292.6L197.2 293.8L197.4 295.0L197.6 296.1L197.9 297.3L198.2 298.5L198.5 299.6L198.9 300.7L199.3 301.9L199.8 303.0L200.2 304.1L200.6 305.3L201.0 306.4L201.4 307.6L201.8 308.7L202.3 309.8L202.9 310.9L203.5 311.8L204.3 312.7L205.1 313.6L206.0 314.4L207.0 315.1L207.9 315.9L208.8 316.7L209.7 317.5L210.6 318.3L211.6 319.0L212.6 319.7L213.6 320.2L214.7 320.7L215.9 321.1L217.0 321.5L218.2 321.9L219.3 322.2L220.5 322.6L221.6 322.9L222.8 323.3L223.9 323.5L225.1 323.7L226.3 323.9L227.5 324.0L228.7 324.1L229.9 324.2L231.1 324.3L232.3 324.4L233.5 324.4L234.7 324.5L235.9 324.6L237.1 324.7L238.3 324.7L239.5 324.8L240.7 324.9L241.9 325.0L243.1 325.1L244.3 325.2L245.5 325.3L246.6 325.4L247.8 325.5L249.0 325.5L250.2 325.6L251.4 325.6L252.6 325.7L253.8 325.7L255.0 325.7L256.2 325.7L257.4 325.7L258.6 325.7L259.8 325.7L261.0 325.7L262.2 325.7L263.4 325.7L264.6 325.7L265.8 325.7L267.0 325.7L268.2 325.7L269.4 325.7L270.6 325.7L271.8 325.7L273.0 325.7L274.2 325.8L275.4 325.8L276.6 325.8L277.8 325.8L279.0 325.8L280.2 325.8L281.4 325.8L282.6 325.8L283.8 325.8L285.0 325.8L286.2 325.8L287.4 325.8L288.6 325.8L289.8 325.8L291.0 325.8L292.2 325.8L293.4 325.8L294.6 325.8L295.8 325.8L297.0 325.8L298.2 325.8L299.4 325.8L300.6 325.8L301.8 325.8L303.0 325.8L304.2 325.8L305.4 325.8L306.6 325.8L307.8 325.8L309.0 325.8L310.2 325.8L311.4 325.8L312.6 325.8L313.8 325.8L315.0 325.8L316.2 325.8L317.4 325.8L318.6 325.8L319.8 325.8L321.0 325.8L322.2 325.8L323.4 325.7L324.6 325.7L325.8 325.7L327.0 325.7L328.2 325.8L329.4 325.8L330.6 325.9L331.8 325.9L333.1 326.0L334.3 326.1L335.5 326.0L336.7 325.9L337.9 325.8L339.0 325.4L340.1 325.0L341.2 324.7L342.3 324.6L343.4 324.8L344.5 325.2L345.6 325.6L346.8 325.9L348.0 326.1L349.1 326.1L350.3 326.1L351.6 326.1L352.8 326.0L354.0 325.9L355.2 325.8L356.4 325.7L357.7 325.7L358.9 325.6L360.1 325.6L361.3 325.6L362.5 325.6L363.7 325.6L364.9 325.7L366.1 325.7L367.3 325.7L368.5 325.7L369.7 325.8L370.9 325.8L372.1 325.8L373.3 325.8L374.4 325.9L375.6 325.9L376.8 325.9L378.0 325.9L379.2 325.9L380.4 326.0L381.6 326.0L382.8 326.0L384.0 326.0L385.2 326.0L386.4 326.0L387.6 326.0L388.8 326.0L390.0 326.0L391.2 326.1L392.4 326.1L393.6 326.1L394.8 326.1L396.0 326.1L397.2 326.1L398.4 326.1L399.6 326.1L400.8 326.1L402.0 326.1L403.2 326.1L404.4 326.1L405.6 326.1L406.8 326.1L408.0 326.1L409.2 326.1L410.4 326.1L411.6 326.1L412.8 326.1L414.0 326.1L415.2 326.1L416.4 326.1L417.6 326.1L418.8 326.1L420.0 326.1L421.2 326.1L422.4 326.1L423.6 326.1L424.8 326.1L426.0 326.1L427.2 326.1L428.4 326.1L429.6 326.1L430.8 326.1L432.0 326.1L433.2 326.1L434.4 326.1L435.6 326.1L436.8 326.1L438.0 326.1L439.2 326.1L440.4 326.1L441.6 326.1L442.8 326.1L444.0 326.1L445.2 326.1L446.4 326.1L447.6 326.1L448.8 326.1L450.0 326.1L451.2 326.1L452.4 326.1L453.6 326.1L454.8 326.1L456.0 326.1L457.2 326.1L458.4 326.1L459.6 326.1L460.8 326.1L462.0 326.1L463.2 326.1L464.4 326.1L465.6 326.1L466.8 326.1L468.0 326.2L469.2 326.2L470.4 326.2L471.6 326.2L472.8 326.2L474.0 326.2L475.2 326.2L476.4 326.2L477.6 326.2L478.8 326.2L480.0 326.2L481.2 326.2L482.4 326.2L483.6 326.2L484.8 326.2L486.0 326.2L487.2 326.2L488.4 326.2L489.6 326.2L490.8 326.2L492.0 326.2L493.2 326.2L494.4 326.2L495.6 326.2L496.8 326.2L498.0 326.2L499.2 326.2L500.4 326.2L501.6 326.2L502.8 326.2L504.0 326.2L505.2 326.2L506.4 326.2L507.6 326.2L508.8 326.2L510.0 326.2L511.2 326.2L512.4 326.2L513.6 326.2L514.8 326.2L516.0 326.2L517.2 326.2L518.4 326.2L519.6 326.2L520.8 326.2L522.0 326.2L523.2 326.2L524.4 326.2L525.6 326.2L526.8 326.1L528.0 326.1L529.2 326.1L530.4 326.0L531.6 326.0L532.8 326.0L534.0 326.0L535.2 326.1L536.4 326.2L537.6 326.3L538.8 326.4L540.0 326.6L541.2 326.7L542.5 326.8L543.7 326.9L544.9 326.8L546.0 326.7L547.2 326.4L548.4 326.0L549.5 325.5L550.6 325.1L551.7 324.8L552.8 324.9L553.9 325.3L555.1 325.8L556.2 326.2L557.4 326.5L558.6 326.7L559.7 326.8L560.9 326.8L562.2 326.7L563.4 326.6L564.6 326.5L565.8 326.3L567.0 326.2L568.2 326.2L569.4 326.1L570.6 326.1L571.8 326.1L573.0 326.1L574.2 326.1L575.4 326.2L576.6 326.2L577.8 326.2L579.0 326.2L580.2 326.3L581.4 326.3L582.6 326.3L583.8 326.3L585.0 326.3L586.2 326.3L587.4 326.3L588.6 326.4L589.8 326.4L591.0 326.4L592.2 326.4L593.4 326.4L594.6 326.4L595.8 326.4L597.0 326.4L598.2 326.3L599.4 326.3L600.6 326.3L601.8 326.3L603.0 326.3L604.2 326.3L605.4 326.3L606.6 326.3L607.8 326.3L609.0 326.3L610.2 326.3L611.4 326.3L612.6 326.3L613.8 326.4L615.0 326.4L616.2 326.4L617.4 326.4L618.6 326.4" stroke="#0000ff" stroke-width="3" stroke-dasharray="10.5 12.2" stroke-dashoffset="17.66"/>
<path d="M56.3 321.5L57.7 321.8L59.1 322.0L60.5 322.3L62.0 322.5L63.3 322.7L64.6 322.8L66.0 322.9L67.4 323.0L68.7 323.1L70.0 323.2L71.3 323.3L72.5 323.3L73.7 323.3L74.9 323.3L76.0 323.3L77.4 323.3L78.8 323.2L80.0 322.9L81.1 322.3L82.1 321.6L83.0 320.6L83.7 319.5L84.4 318.2L85.0 316.8L85.6 315.5L86.2 314.3L86.8 313.0L87.3 311.8L87.8 310.3L88.0 309.1L88.2 307.9L88.4 306.6L88.5 305.2L88.6 303.7L88.7 302.3L88.8 300.9L89.0 299.5L89.1 298.1L89.2 296.8L89.3 295.4L89.5 294.0L89.6 292.6L89.7 291.2L89.8 289.9L89.9 288.5L90.0 287.2L90.1 285.8L90.2 284.5L90.3 283.1L90.4 281.8L90.5 280.5L90.6 279.2L90.7 278.0L90.7 276.5L90.8 275.1L90.9 273.7L91.0 272.4L91.0 271.0L91.1 269.6L91.2 268.3L91.2 266.9L91.3 265.5L91.4 264.0L91.5 262.7L91.5 261.2L91.6 259.8L91.7 258.3L91.7 256.8L91.8 255.4L91.8 254.0L91.9 252.2L92.0 250.2L92.1 248.4L92.2 247.1L92.3 246.6L92.4 247.1L92.5 248.4L92.6 250.2L92.7 252.2L92.8 254.0L92.8 255.4L92.9 256.8L92.9 258.3L93.0 259.8L93.1 261.2L93.1 262.7L93.2 264.0L93.3 265.5L93.4 266.9L93.4 268.3L93.5 269.6L93.6 271.0L93.6 272.4L93.7 273.7L93.8 275.1L93.9 276.5L94.0 278.0L94.0 279.2L94.1 280.5L94.2 281.8L94.3 283.1L94.4 284.5L94.5 285.8L94.6 287.2L94.7 288.5L94.8 289.9L94.9 291.2L95.0 292.6L95.1 294.0L95.3 295.4L95.4 296.8L95.5 298.1L95.7 299.5L95.8 300.9L95.9 302.3L96.0 303.7L96.1 305.1L96.3 306.5L96.4 307.8L96.6 309.1L96.8 310.3L97.2 311.7L97.6 313.0L98.0 314.2L98.4 315.4L99.0 316.5L99.7 317.6L100.6 318.6L101.4 319.5L102.3 320.4L103.3 321.4L104.4 322.2L105.5 323.0L106.7 323.8L108.0 324.4L109.4 325.0L110.7 325.4L112.0 325.7L113.5 326.0L115.0 326.2L116.3 326.3L117.7 326.4L119.2 326.5L120.7 326.6L122.2 326.6L123.6 326.7L125.0 326.7L126.3 326.7L127.6 326.7L128.8 326.7L130.0 326.7L131.3 326.7L132.5 326.8L133.7 326.8L135.0 326.8L136.2 326.8L137.4 326.8L138.7 326.8L140.0 326.8L141.4 326.8L142.8 326.8L144.2 326.8L145.6 326.8L147.1 326.8L148.6 326.8L150.0 326.8L151.4 326.8L152.9 326.8L154.3 326.8L155.7 326.9L157.1 326.9L158.6 326.9L160.0 326.9L161.4 326.9L162.9 326.9L164.3 326.9L165.7 326.9L167.1 326.9L168.6 326.9L170.0 326.9L171.4 326.9L172.9 326.9L174.3 326.9L175.7 326.9L177.1 326.9L178.6 326.9L180.0 326.9L181.4 326.9L182.9 326.9L184.3 326.9L185.7 327.0L187.1 327.0L188.6 327.0L190.0 327.0L191.4 327.0L192.8 327.0L194.3 327.0L195.7 327.0L197.1 327.0L198.5 327.0L200.0 327.0L201.4 327.0L202.8 327.0L204.2 327.0L205.6 327.0L207.1 327.0L208.5 327.0L209.9 327.0L211.3 327.0L212.8 327.0L214.2 327.0L215.6 327.0L217.0 327.0L218.4 327.0L219.8 327.0L221.2 327.0L222.7 327.0L224.1 327.0L225.5 327.0L226.9 327.0L228.3 327.0L229.8 327.0L231.2 327.0L232.6 327.0L234.0 327.0L235.4 327.0L236.8 327.0L238.2 327.0L239.7 327.0L241.1 327.0L242.5 327.0L243.9 327.0L245.3 327.0L246.8 327.0L248.2 327.0L249.6 327.0L251.0 327.0L252.4 327.0L253.8 327.0L255.2 327.0L256.7 327.0L258.1 327.0L259.5 327.0L260.9 327.0L262.3 327.0L263.8 327.0L265.2 327.0L266.6 327.0L268.0 327.0L269.4 327.0L270.8 327.0L272.2 327.0L273.7 327.0L275.1 327.0L276.5 327.0L277.9 327.0L279.3 327.0L280.8 327.0L282.2 327.0L283.6 327.0L285.0 327.0L286.4 327.0L287.8 327.0L289.2 327.0L290.7 327.0L292.1 327.0L293.5 327.0L294.9 327.0L296.3 327.0L297.8 327.0L299.2 327.0L300.6 327.0L302.0 327.0L303.4 327.0L304.8 327.0L306.2 327.0L307.7 327.0L309.1 327.0L310.5 327.0L311.9 327.0L313.3 327.0L314.8 327.0L316.2 327.0L317.6 327.0L319.0 327.0L320.4 327.0L321.8 327.0L323.2 327.0L324.7 327.0L326.1 327.0L327.7 327.1L329.2 327.2L330.8 327.2L332.2 327.3L333.6 327.3L334.9 327.2L336.0 327.0L337.4 326.6L338.5 326.0L339.5 325.3L340.6 324.1L341.5 323.3L342.4 324.1L343.5 325.3L344.5 326.0L345.6 326.6L347.0 327.0L348.1 327.2L349.4 327.3L350.9 327.3L352.5 327.2L354.1 327.2L355.7 327.1L357.3 327.0L358.8 327.0L360.3 327.0L361.8 327.0L363.2 327.0L364.7 327.0L366.2 327.0L367.7 327.0L369.1 327.0L370.6 327.0L372.1 327.0L373.6 327.0L375.0 327.0L376.5 327.0L378.0 327.0L379.5 327.0L381.0 327.0L382.4 327.0L383.9 327.0L385.4 327.0L386.9 327.0L388.3 327.0L389.8 327.0L391.3 327.0L392.8 327.0L394.2 327.0L395.7 327.0L397.2 327.0L398.7 327.0L400.1 327.0L401.6 327.0L403.1 327.0L404.6 327.0L406.0 327.0L407.5 327.0L409.0 327.0L410.5 327.0L411.9 327.0L413.4 327.0L414.9 327.0L416.4 327.0L417.9 327.0L419.3 327.0L420.8 327.0L422.3 327.0L423.8 327.0L425.2 327.0L426.7 327.0L428.2 327.0L429.7 327.0L431.1 327.0L432.6 327.0L434.1 327.0L435.6 327.0L437.0 327.0L438.5 327.0L440.0 327.0L441.5 327.0L442.9 327.0L444.4 327.0L445.9 327.0L447.4 327.0L448.8 327.0L450.3 327.0L451.8 327.0L453.3 327.0L454.8 327.0L456.2 327.0L457.7 327.0L459.2 327.0L460.7 327.0L462.1 327.0L463.6 327.0L465.1 327.0L466.6 327.0L468.0 327.0L469.5 327.0L471.0 327.0L472.5 327.0L473.9 327.0L475.4 327.0L476.9 327.0L478.4 327.0L479.8 327.0L481.3 327.0L482.8 327.0L484.3 327.0L485.8 327.0L487.2 327.0L488.7 327.0L490.2 327.0L491.7 327.0L493.1 327.0L494.6 327.0L496.1 327.0L497.6 327.0L499.0 327.0L500.5 327.0L502.0 327.0L503.5 327.0L504.9 327.0L506.4 327.0L507.9 327.0L509.4 327.0L510.8 327.0L512.3 327.0L513.8 327.0L515.3 327.0L516.8 327.0L518.2 327.0L519.7 327.0L521.2 327.0L522.7 327.0L524.1 327.0L525.6 327.0L527.1 327.0L528.6 327.0L530.0 327.0L531.5 327.0L533.0 327.0L534.5 327.0L535.9 327.0L537.4 327.0L538.9 327.0L540.4 327.0L541.8 327.0L543.3 327.0L544.8 327.0L546.3 327.0L547.7 327.0L549.2 327.0L550.7 327.0L552.2 327.0L553.7 327.0L555.1 327.0L556.6 327.0L558.1 327.0L559.6 327.0L561.0 327.0L562.5 327.0L564.0 327.0L565.5 327.0L566.9 327.0L568.4 327.0L569.9 327.0L571.4 327.0L572.8 327.0L574.3 327.0L575.8 327.0L577.3 327.0L578.7 327.0L580.2 327.0L581.7 327.0L583.2 327.0L584.6 327.0L586.1 327.0L587.6 327.0L589.1 327.0L590.6 327.0L592.0 327.0L593.5 327.0L595.0 327.0L596.5 327.0L597.9 327.0L599.4 327.0L600.9 327.0L602.4 327.0L603.8 327.0L605.3 327.0L606.8 327.0L608.5 327.0L610.2 327.0L611.9 327.0L613.5 327.0L615.2 327.0L616.9 327.0L618.6 327.0" stroke="#00ff00" stroke-width="3"/></g>
<g style="opacity:0.999"><text transform="translate(50.30 336.90) scale(0.845 1)" text-anchor="end" font-size="24.6">0</text>
<text transform="translate(50.30 273.50) scale(0.845 1)" text-anchor="end" font-size="24.6">0.2</text>
<text transform="translate(50.30 210.70) scale(0.845 1)" text-anchor="end" font-size="24.6">0.4</text>
<text transform="translate(50.30 147.90) scale(0.845 1)" text-anchor="end" font-size="24.6">0.6</text>
<text transform="translate(50.30 85.10) scale(0.845 1)" text-anchor="end" font-size="24.6">0.8</text>
<text transform="translate(49.30 22.30) scale(0.845 1)" text-anchor="end" font-size="24.6">1</text>
<text transform="translate(56.65 357.50) scale(0.845 1)" text-anchor="middle" font-size="24.6">10</text>
<text transform="translate(150.36 357.50) scale(0.845 1)" text-anchor="middle" font-size="24.6">15</text>
<text transform="translate(244.07 357.50) scale(0.845 1)" text-anchor="middle" font-size="24.6">20</text>
<text transform="translate(337.78 357.50) scale(0.845 1)" text-anchor="middle" font-size="24.6">25</text>
<text transform="translate(431.48 357.50) scale(0.845 1)" text-anchor="middle" font-size="24.6">30</text>
<text transform="translate(525.19 357.50) scale(0.845 1)" text-anchor="middle" font-size="24.6">35</text>
<text transform="translate(618.90 357.50) scale(0.845 1)" text-anchor="middle" font-size="24.6">40</text>
<text transform="translate(338.00 385.80) scale(0.847 1)" text-anchor="middle" font-size="25.0">Frequency(THz)</text>
<text transform="translate(17.6 170) scale(0.85 1) rotate(-90)" text-anchor="middle" font-size="24.3">PCR</text>
<line x1="508.2" y1="36.4" x2="529.8" y2="36.4" stroke="#000" stroke-width="4.2"/>
<text transform="translate(532.7 46.0) scale(1.12 1)" font-size="23" style="font-style:italic;font-weight:normal">&#956;</text>
<text transform="translate(544.9 46.0) scale(0.876 1)" font-size="24.3">=1 ev</text>
<line x1="508.2" y1="65.2" x2="529.8" y2="65.2" stroke="#00ffff" stroke-width="4" stroke-dasharray="17 4.5 9.5 4.5"/>
<text transform="translate(532.7 74.7) scale(1.12 1)" font-size="23" style="font-style:italic;font-weight:normal">&#956;</text>
<text transform="translate(544.9 74.7) scale(0.869 1)" font-size="24.3">=0.9 ev</text>
<line x1="508.2" y1="93.6" x2="529.8" y2="93.6" stroke="#ff00ff" stroke-width="3" stroke-dasharray="10.5 12.2"/>
<text transform="translate(532.7 103.6) scale(1.12 1)" font-size="23" style="font-style:italic;font-weight:normal">&#956;</text>
<text transform="translate(544.9 103.6) scale(0.869 1)" font-size="24.3">=0.8 ev</text>
<line x1="508.2" y1="122.2" x2="529.8" y2="122.2" stroke="#ff0000" stroke-width="3" stroke-dasharray="2.9 2.95"/>
<text transform="translate(532.7 131.4) scale(1.12 1)" font-size="23" style="font-style:italic;font-weight:normal">&#956;</text>
<text transform="translate(544.9 131.4) scale(0.869 1)" font-size="24.3">=0.6 ev</text>
<line x1="508.2" y1="151.0" x2="529.8" y2="151.0" stroke="#0000ff" stroke-width="3" stroke-dasharray="10.5 12.2"/>
<text transform="translate(532.7 160.9) scale(1.12 1)" font-size="23" style="font-style:italic;font-weight:normal">&#956;</text>
<text transform="translate(544.9 160.9) scale(0.869 1)" font-size="24.3">=0.4 ev</text>
<line x1="508.2" y1="179.5" x2="529.8" y2="179.5" stroke="#00ff00" stroke-width="3"/>
<text transform="translate(532.7 188.6) scale(1.12 1)" font-size="23" style="font-style:italic;font-weight:normal">&#956;</text>
<text transform="translate(544.9 188.6) scale(0.869 1)" font-size="24.3">=0.2 ev</text></g>
</svg>
</body></html>
